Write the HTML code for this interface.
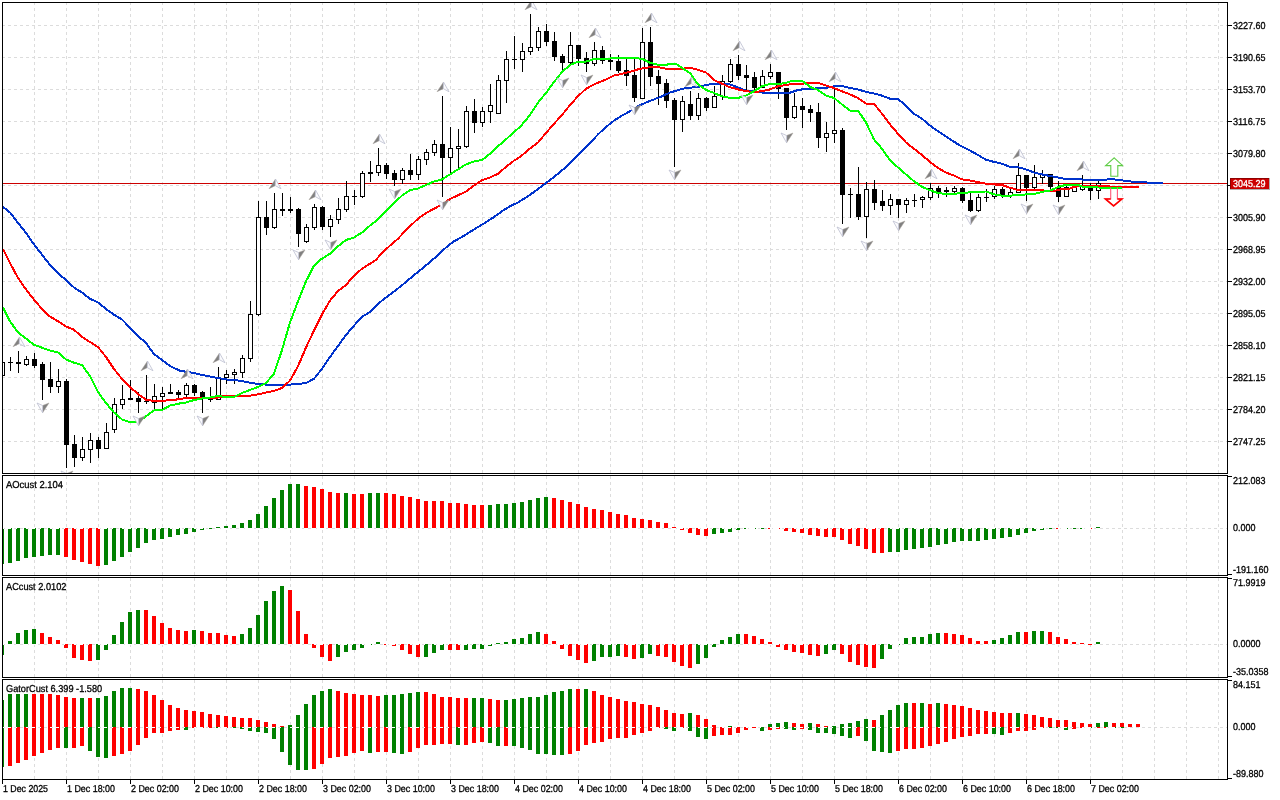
<!DOCTYPE html><html><head><meta charset="utf-8"><title>chart</title><style>html,body{margin:0;padding:0;background:#fff;overflow:hidden}svg{display:block}text{font-family:"Liberation Sans",sans-serif;fill:#000}</style></head><body>
<svg width="1280" height="800" viewBox="0 0 1280 800">
<rect width="1280" height="800" fill="#fff"/>
<g shape-rendering="crispEdges" stroke="#dcdcdc" stroke-width="1" stroke-dasharray="3 3" fill="none">
<line x1="34.5" y1="2" x2="34.5" y2="473" stroke-dashoffset="0"/>
<line x1="66.5" y1="2" x2="66.5" y2="473" stroke-dashoffset="0"/>
<line x1="98.5" y1="2" x2="98.5" y2="473" stroke-dashoffset="0"/>
<line x1="130.5" y1="2" x2="130.5" y2="473" stroke-dashoffset="0"/>
<line x1="162.5" y1="2" x2="162.5" y2="473" stroke-dashoffset="0"/>
<line x1="194.5" y1="2" x2="194.5" y2="473" stroke-dashoffset="0"/>
<line x1="226.5" y1="2" x2="226.5" y2="473" stroke-dashoffset="0"/>
<line x1="258.5" y1="2" x2="258.5" y2="473" stroke-dashoffset="0"/>
<line x1="290.5" y1="2" x2="290.5" y2="473" stroke-dashoffset="0"/>
<line x1="322.5" y1="2" x2="322.5" y2="473" stroke-dashoffset="0"/>
<line x1="354.5" y1="2" x2="354.5" y2="473" stroke-dashoffset="0"/>
<line x1="386.5" y1="2" x2="386.5" y2="473" stroke-dashoffset="0"/>
<line x1="418.5" y1="2" x2="418.5" y2="473" stroke-dashoffset="0"/>
<line x1="450.5" y1="2" x2="450.5" y2="473" stroke-dashoffset="0"/>
<line x1="482.5" y1="2" x2="482.5" y2="473" stroke-dashoffset="0"/>
<line x1="514.5" y1="2" x2="514.5" y2="473" stroke-dashoffset="0"/>
<line x1="546.5" y1="2" x2="546.5" y2="473" stroke-dashoffset="0"/>
<line x1="578.5" y1="2" x2="578.5" y2="473" stroke-dashoffset="0"/>
<line x1="610.5" y1="2" x2="610.5" y2="473" stroke-dashoffset="0"/>
<line x1="642.5" y1="2" x2="642.5" y2="473" stroke-dashoffset="0"/>
<line x1="674.5" y1="2" x2="674.5" y2="473" stroke-dashoffset="0"/>
<line x1="706.5" y1="2" x2="706.5" y2="473" stroke-dashoffset="0"/>
<line x1="738.5" y1="2" x2="738.5" y2="473" stroke-dashoffset="0"/>
<line x1="770.5" y1="2" x2="770.5" y2="473" stroke-dashoffset="0"/>
<line x1="802.5" y1="2" x2="802.5" y2="473" stroke-dashoffset="0"/>
<line x1="834.5" y1="2" x2="834.5" y2="473" stroke-dashoffset="0"/>
<line x1="866.5" y1="2" x2="866.5" y2="473" stroke-dashoffset="0"/>
<line x1="898.5" y1="2" x2="898.5" y2="473" stroke-dashoffset="0"/>
<line x1="930.5" y1="2" x2="930.5" y2="473" stroke-dashoffset="0"/>
<line x1="962.5" y1="2" x2="962.5" y2="473" stroke-dashoffset="0"/>
<line x1="994.5" y1="2" x2="994.5" y2="473" stroke-dashoffset="0"/>
<line x1="1026.5" y1="2" x2="1026.5" y2="473" stroke-dashoffset="0"/>
<line x1="1058.5" y1="2" x2="1058.5" y2="473" stroke-dashoffset="0"/>
<line x1="1090.5" y1="2" x2="1090.5" y2="473" stroke-dashoffset="0"/>
<line x1="1122.5" y1="2" x2="1122.5" y2="473" stroke-dashoffset="0"/>
<line x1="1154.5" y1="2" x2="1154.5" y2="473" stroke-dashoffset="0"/>
<line x1="1186.5" y1="2" x2="1186.5" y2="473" stroke-dashoffset="0"/>
<line x1="1218.5" y1="2" x2="1218.5" y2="473" stroke-dashoffset="0"/>
<line x1="34.5" y1="475" x2="34.5" y2="575" stroke-dashoffset="5"/>
<line x1="66.5" y1="475" x2="66.5" y2="575" stroke-dashoffset="5"/>
<line x1="98.5" y1="475" x2="98.5" y2="575" stroke-dashoffset="5"/>
<line x1="130.5" y1="475" x2="130.5" y2="575" stroke-dashoffset="5"/>
<line x1="162.5" y1="475" x2="162.5" y2="575" stroke-dashoffset="5"/>
<line x1="194.5" y1="475" x2="194.5" y2="575" stroke-dashoffset="5"/>
<line x1="226.5" y1="475" x2="226.5" y2="575" stroke-dashoffset="5"/>
<line x1="258.5" y1="475" x2="258.5" y2="575" stroke-dashoffset="5"/>
<line x1="290.5" y1="475" x2="290.5" y2="575" stroke-dashoffset="5"/>
<line x1="322.5" y1="475" x2="322.5" y2="575" stroke-dashoffset="5"/>
<line x1="354.5" y1="475" x2="354.5" y2="575" stroke-dashoffset="5"/>
<line x1="386.5" y1="475" x2="386.5" y2="575" stroke-dashoffset="5"/>
<line x1="418.5" y1="475" x2="418.5" y2="575" stroke-dashoffset="5"/>
<line x1="450.5" y1="475" x2="450.5" y2="575" stroke-dashoffset="5"/>
<line x1="482.5" y1="475" x2="482.5" y2="575" stroke-dashoffset="5"/>
<line x1="514.5" y1="475" x2="514.5" y2="575" stroke-dashoffset="5"/>
<line x1="546.5" y1="475" x2="546.5" y2="575" stroke-dashoffset="5"/>
<line x1="578.5" y1="475" x2="578.5" y2="575" stroke-dashoffset="5"/>
<line x1="610.5" y1="475" x2="610.5" y2="575" stroke-dashoffset="5"/>
<line x1="642.5" y1="475" x2="642.5" y2="575" stroke-dashoffset="5"/>
<line x1="674.5" y1="475" x2="674.5" y2="575" stroke-dashoffset="5"/>
<line x1="706.5" y1="475" x2="706.5" y2="575" stroke-dashoffset="5"/>
<line x1="738.5" y1="475" x2="738.5" y2="575" stroke-dashoffset="5"/>
<line x1="770.5" y1="475" x2="770.5" y2="575" stroke-dashoffset="5"/>
<line x1="802.5" y1="475" x2="802.5" y2="575" stroke-dashoffset="5"/>
<line x1="834.5" y1="475" x2="834.5" y2="575" stroke-dashoffset="5"/>
<line x1="866.5" y1="475" x2="866.5" y2="575" stroke-dashoffset="5"/>
<line x1="898.5" y1="475" x2="898.5" y2="575" stroke-dashoffset="5"/>
<line x1="930.5" y1="475" x2="930.5" y2="575" stroke-dashoffset="5"/>
<line x1="962.5" y1="475" x2="962.5" y2="575" stroke-dashoffset="5"/>
<line x1="994.5" y1="475" x2="994.5" y2="575" stroke-dashoffset="5"/>
<line x1="1026.5" y1="475" x2="1026.5" y2="575" stroke-dashoffset="5"/>
<line x1="1058.5" y1="475" x2="1058.5" y2="575" stroke-dashoffset="5"/>
<line x1="1090.5" y1="475" x2="1090.5" y2="575" stroke-dashoffset="5"/>
<line x1="1122.5" y1="475" x2="1122.5" y2="575" stroke-dashoffset="5"/>
<line x1="1154.5" y1="475" x2="1154.5" y2="575" stroke-dashoffset="5"/>
<line x1="1186.5" y1="475" x2="1186.5" y2="575" stroke-dashoffset="5"/>
<line x1="1218.5" y1="475" x2="1218.5" y2="575" stroke-dashoffset="5"/>
<line x1="34.5" y1="577" x2="34.5" y2="677" stroke-dashoffset="5"/>
<line x1="66.5" y1="577" x2="66.5" y2="677" stroke-dashoffset="5"/>
<line x1="98.5" y1="577" x2="98.5" y2="677" stroke-dashoffset="5"/>
<line x1="130.5" y1="577" x2="130.5" y2="677" stroke-dashoffset="5"/>
<line x1="162.5" y1="577" x2="162.5" y2="677" stroke-dashoffset="5"/>
<line x1="194.5" y1="577" x2="194.5" y2="677" stroke-dashoffset="5"/>
<line x1="226.5" y1="577" x2="226.5" y2="677" stroke-dashoffset="5"/>
<line x1="258.5" y1="577" x2="258.5" y2="677" stroke-dashoffset="5"/>
<line x1="290.5" y1="577" x2="290.5" y2="677" stroke-dashoffset="5"/>
<line x1="322.5" y1="577" x2="322.5" y2="677" stroke-dashoffset="5"/>
<line x1="354.5" y1="577" x2="354.5" y2="677" stroke-dashoffset="5"/>
<line x1="386.5" y1="577" x2="386.5" y2="677" stroke-dashoffset="5"/>
<line x1="418.5" y1="577" x2="418.5" y2="677" stroke-dashoffset="5"/>
<line x1="450.5" y1="577" x2="450.5" y2="677" stroke-dashoffset="5"/>
<line x1="482.5" y1="577" x2="482.5" y2="677" stroke-dashoffset="5"/>
<line x1="514.5" y1="577" x2="514.5" y2="677" stroke-dashoffset="5"/>
<line x1="546.5" y1="577" x2="546.5" y2="677" stroke-dashoffset="5"/>
<line x1="578.5" y1="577" x2="578.5" y2="677" stroke-dashoffset="5"/>
<line x1="610.5" y1="577" x2="610.5" y2="677" stroke-dashoffset="5"/>
<line x1="642.5" y1="577" x2="642.5" y2="677" stroke-dashoffset="5"/>
<line x1="674.5" y1="577" x2="674.5" y2="677" stroke-dashoffset="5"/>
<line x1="706.5" y1="577" x2="706.5" y2="677" stroke-dashoffset="5"/>
<line x1="738.5" y1="577" x2="738.5" y2="677" stroke-dashoffset="5"/>
<line x1="770.5" y1="577" x2="770.5" y2="677" stroke-dashoffset="5"/>
<line x1="802.5" y1="577" x2="802.5" y2="677" stroke-dashoffset="5"/>
<line x1="834.5" y1="577" x2="834.5" y2="677" stroke-dashoffset="5"/>
<line x1="866.5" y1="577" x2="866.5" y2="677" stroke-dashoffset="5"/>
<line x1="898.5" y1="577" x2="898.5" y2="677" stroke-dashoffset="5"/>
<line x1="930.5" y1="577" x2="930.5" y2="677" stroke-dashoffset="5"/>
<line x1="962.5" y1="577" x2="962.5" y2="677" stroke-dashoffset="5"/>
<line x1="994.5" y1="577" x2="994.5" y2="677" stroke-dashoffset="5"/>
<line x1="1026.5" y1="577" x2="1026.5" y2="677" stroke-dashoffset="5"/>
<line x1="1058.5" y1="577" x2="1058.5" y2="677" stroke-dashoffset="5"/>
<line x1="1090.5" y1="577" x2="1090.5" y2="677" stroke-dashoffset="5"/>
<line x1="1122.5" y1="577" x2="1122.5" y2="677" stroke-dashoffset="5"/>
<line x1="1154.5" y1="577" x2="1154.5" y2="677" stroke-dashoffset="5"/>
<line x1="1186.5" y1="577" x2="1186.5" y2="677" stroke-dashoffset="5"/>
<line x1="1218.5" y1="577" x2="1218.5" y2="677" stroke-dashoffset="5"/>
<line x1="34.5" y1="679" x2="34.5" y2="779" stroke-dashoffset="5"/>
<line x1="66.5" y1="679" x2="66.5" y2="779" stroke-dashoffset="5"/>
<line x1="98.5" y1="679" x2="98.5" y2="779" stroke-dashoffset="5"/>
<line x1="130.5" y1="679" x2="130.5" y2="779" stroke-dashoffset="5"/>
<line x1="162.5" y1="679" x2="162.5" y2="779" stroke-dashoffset="5"/>
<line x1="194.5" y1="679" x2="194.5" y2="779" stroke-dashoffset="5"/>
<line x1="226.5" y1="679" x2="226.5" y2="779" stroke-dashoffset="5"/>
<line x1="258.5" y1="679" x2="258.5" y2="779" stroke-dashoffset="5"/>
<line x1="290.5" y1="679" x2="290.5" y2="779" stroke-dashoffset="5"/>
<line x1="322.5" y1="679" x2="322.5" y2="779" stroke-dashoffset="5"/>
<line x1="354.5" y1="679" x2="354.5" y2="779" stroke-dashoffset="5"/>
<line x1="386.5" y1="679" x2="386.5" y2="779" stroke-dashoffset="5"/>
<line x1="418.5" y1="679" x2="418.5" y2="779" stroke-dashoffset="5"/>
<line x1="450.5" y1="679" x2="450.5" y2="779" stroke-dashoffset="5"/>
<line x1="482.5" y1="679" x2="482.5" y2="779" stroke-dashoffset="5"/>
<line x1="514.5" y1="679" x2="514.5" y2="779" stroke-dashoffset="5"/>
<line x1="546.5" y1="679" x2="546.5" y2="779" stroke-dashoffset="5"/>
<line x1="578.5" y1="679" x2="578.5" y2="779" stroke-dashoffset="5"/>
<line x1="610.5" y1="679" x2="610.5" y2="779" stroke-dashoffset="5"/>
<line x1="642.5" y1="679" x2="642.5" y2="779" stroke-dashoffset="5"/>
<line x1="674.5" y1="679" x2="674.5" y2="779" stroke-dashoffset="5"/>
<line x1="706.5" y1="679" x2="706.5" y2="779" stroke-dashoffset="5"/>
<line x1="738.5" y1="679" x2="738.5" y2="779" stroke-dashoffset="5"/>
<line x1="770.5" y1="679" x2="770.5" y2="779" stroke-dashoffset="5"/>
<line x1="802.5" y1="679" x2="802.5" y2="779" stroke-dashoffset="5"/>
<line x1="834.5" y1="679" x2="834.5" y2="779" stroke-dashoffset="5"/>
<line x1="866.5" y1="679" x2="866.5" y2="779" stroke-dashoffset="5"/>
<line x1="898.5" y1="679" x2="898.5" y2="779" stroke-dashoffset="5"/>
<line x1="930.5" y1="679" x2="930.5" y2="779" stroke-dashoffset="5"/>
<line x1="962.5" y1="679" x2="962.5" y2="779" stroke-dashoffset="5"/>
<line x1="994.5" y1="679" x2="994.5" y2="779" stroke-dashoffset="5"/>
<line x1="1026.5" y1="679" x2="1026.5" y2="779" stroke-dashoffset="5"/>
<line x1="1058.5" y1="679" x2="1058.5" y2="779" stroke-dashoffset="5"/>
<line x1="1090.5" y1="679" x2="1090.5" y2="779" stroke-dashoffset="5"/>
<line x1="1122.5" y1="679" x2="1122.5" y2="779" stroke-dashoffset="5"/>
<line x1="1154.5" y1="679" x2="1154.5" y2="779" stroke-dashoffset="5"/>
<line x1="1186.5" y1="679" x2="1186.5" y2="779" stroke-dashoffset="5"/>
<line x1="1218.5" y1="679" x2="1218.5" y2="779" stroke-dashoffset="5"/>
<line x1="2" y1="25.5" x2="1227" y2="25.5"/>
<line x1="2" y1="57.5" x2="1227" y2="57.5"/>
<line x1="2" y1="89.5" x2="1227" y2="89.5"/>
<line x1="2" y1="121.5" x2="1227" y2="121.5"/>
<line x1="2" y1="153.5" x2="1227" y2="153.5"/>
<line x1="2" y1="185.5" x2="1227" y2="185.5"/>
<line x1="2" y1="217.5" x2="1227" y2="217.5"/>
<line x1="2" y1="249.5" x2="1227" y2="249.5"/>
<line x1="2" y1="281.5" x2="1227" y2="281.5"/>
<line x1="2" y1="313.5" x2="1227" y2="313.5"/>
<line x1="2" y1="345.5" x2="1227" y2="345.5"/>
<line x1="2" y1="377.5" x2="1227" y2="377.5"/>
<line x1="2" y1="409.5" x2="1227" y2="409.5"/>
<line x1="2" y1="441.5" x2="1227" y2="441.5"/>
<line x1="2" y1="528.5" x2="1227" y2="528.5"/>
<line x1="2" y1="644.5" x2="1227" y2="644.5"/>
<line x1="2" y1="727.5" x2="1227" y2="727.5"/>
</g>
<defs><clipPath id="cm"><rect x="3" y="3" width="1224" height="470"/></clipPath>
<clipPath id="c1"><rect x="3" y="476" width="1224" height="99"/></clipPath>
<clipPath id="c2"><rect x="3" y="578" width="1224" height="99"/></clipPath>
<clipPath id="c3"><rect x="3" y="680" width="1224" height="99"/></clipPath></defs>
<g shape-rendering="crispEdges"><rect x="3" y="183" width="1224" height="1" fill="#cc0000"/></g>
<g clip-path="url(#cm)" shape-rendering="crispEdges">
<rect x="2" y="362" width="1" height="14" fill="#000"/>
<rect x="0" y="362" width="5" height="14" fill="#000"/>
<rect x="1" y="363" width="3" height="12" fill="#fff"/>
<rect x="10" y="357" width="1" height="14" fill="#000"/>
<rect x="8" y="362" width="5" height="1" fill="#000"/>
<rect x="18" y="351" width="1" height="22" fill="#000"/>
<rect x="16" y="362" width="5" height="2" fill="#000"/>
<rect x="26" y="356" width="1" height="10" fill="#000"/>
<rect x="24" y="359" width="5" height="6" fill="#000"/>
<rect x="25" y="360" width="3" height="4" fill="#fff"/>
<rect x="34" y="353" width="1" height="15" fill="#000"/>
<rect x="32" y="359" width="5" height="7" fill="#000"/>
<rect x="42" y="362" width="1" height="38" fill="#000"/>
<rect x="40" y="364" width="5" height="16" fill="#000"/>
<rect x="50" y="362" width="1" height="31" fill="#000"/>
<rect x="48" y="379" width="5" height="8" fill="#000"/>
<rect x="58" y="369" width="1" height="24" fill="#000"/>
<rect x="56" y="381" width="5" height="6" fill="#000"/>
<rect x="57" y="382" width="3" height="4" fill="#fff"/>
<rect x="66" y="379" width="1" height="89" fill="#000"/>
<rect x="64" y="381" width="5" height="64" fill="#000"/>
<rect x="74" y="435" width="1" height="32" fill="#000"/>
<rect x="72" y="444" width="5" height="14" fill="#000"/>
<rect x="82" y="437" width="1" height="24" fill="#000"/>
<rect x="80" y="449" width="5" height="9" fill="#000"/>
<rect x="81" y="450" width="3" height="7" fill="#fff"/>
<rect x="90" y="433" width="1" height="30" fill="#000"/>
<rect x="88" y="440" width="5" height="10" fill="#000"/>
<rect x="89" y="441" width="3" height="8" fill="#fff"/>
<rect x="98" y="437" width="1" height="21" fill="#000"/>
<rect x="96" y="440" width="5" height="9" fill="#000"/>
<rect x="106" y="423" width="1" height="26" fill="#000"/>
<rect x="104" y="432" width="5" height="17" fill="#000"/>
<rect x="105" y="433" width="3" height="15" fill="#fff"/>
<rect x="114" y="398" width="1" height="35" fill="#000"/>
<rect x="112" y="404" width="5" height="26" fill="#000"/>
<rect x="113" y="405" width="3" height="24" fill="#fff"/>
<rect x="122" y="385" width="1" height="24" fill="#000"/>
<rect x="120" y="399" width="5" height="6" fill="#000"/>
<rect x="121" y="400" width="3" height="4" fill="#fff"/>
<rect x="130" y="380" width="1" height="20" fill="#000"/>
<rect x="128" y="398" width="5" height="2" fill="#000"/>
<rect x="138" y="392" width="1" height="21" fill="#000"/>
<rect x="136" y="398" width="5" height="4" fill="#000"/>
<rect x="146" y="375" width="1" height="29" fill="#000"/>
<rect x="144" y="401" width="5" height="1" fill="#000"/>
<rect x="154" y="384" width="1" height="26" fill="#000"/>
<rect x="152" y="396" width="5" height="7" fill="#000"/>
<rect x="153" y="397" width="3" height="5" fill="#fff"/>
<rect x="162" y="387" width="1" height="24" fill="#000"/>
<rect x="160" y="393" width="5" height="4" fill="#000"/>
<rect x="161" y="394" width="3" height="2" fill="#fff"/>
<rect x="170" y="384" width="1" height="10" fill="#000"/>
<rect x="168" y="392" width="5" height="2" fill="#000"/>
<rect x="178" y="390" width="1" height="9" fill="#000"/>
<rect x="176" y="392" width="5" height="3" fill="#000"/>
<rect x="186" y="383" width="1" height="16" fill="#000"/>
<rect x="184" y="385" width="5" height="10" fill="#000"/>
<rect x="185" y="386" width="3" height="8" fill="#fff"/>
<rect x="194" y="384" width="1" height="12" fill="#000"/>
<rect x="192" y="385" width="5" height="8" fill="#000"/>
<rect x="202" y="391" width="1" height="22" fill="#000"/>
<rect x="200" y="392" width="5" height="6" fill="#000"/>
<rect x="210" y="387" width="1" height="15" fill="#000"/>
<rect x="208" y="398" width="5" height="2" fill="#000"/>
<rect x="218" y="367" width="1" height="33" fill="#000"/>
<rect x="216" y="377" width="5" height="23" fill="#000"/>
<rect x="217" y="378" width="3" height="21" fill="#fff"/>
<rect x="226" y="370" width="1" height="14" fill="#000"/>
<rect x="224" y="374" width="5" height="4" fill="#000"/>
<rect x="225" y="375" width="3" height="2" fill="#fff"/>
<rect x="234" y="369" width="1" height="15" fill="#000"/>
<rect x="232" y="372" width="5" height="3" fill="#000"/>
<rect x="233" y="373" width="3" height="1" fill="#fff"/>
<rect x="242" y="355" width="1" height="23" fill="#000"/>
<rect x="240" y="358" width="5" height="15" fill="#000"/>
<rect x="241" y="359" width="3" height="13" fill="#fff"/>
<rect x="250" y="301" width="1" height="61" fill="#000"/>
<rect x="248" y="314" width="5" height="45" fill="#000"/>
<rect x="249" y="315" width="3" height="43" fill="#fff"/>
<rect x="258" y="201" width="1" height="115" fill="#000"/>
<rect x="256" y="217" width="5" height="98" fill="#000"/>
<rect x="257" y="218" width="3" height="96" fill="#fff"/>
<rect x="266" y="201" width="1" height="34" fill="#000"/>
<rect x="264" y="217" width="5" height="11" fill="#000"/>
<rect x="274" y="193" width="1" height="36" fill="#000"/>
<rect x="272" y="209" width="5" height="19" fill="#000"/>
<rect x="273" y="210" width="3" height="17" fill="#fff"/>
<rect x="282" y="193" width="1" height="23" fill="#000"/>
<rect x="280" y="209" width="5" height="2" fill="#000"/>
<rect x="290" y="197" width="1" height="16" fill="#000"/>
<rect x="288" y="209" width="5" height="2" fill="#000"/>
<rect x="298" y="208" width="1" height="39" fill="#000"/>
<rect x="296" y="209" width="5" height="25" fill="#000"/>
<rect x="306" y="224" width="1" height="19" fill="#000"/>
<rect x="304" y="227" width="5" height="15" fill="#000"/>
<rect x="305" y="228" width="3" height="13" fill="#fff"/>
<rect x="314" y="204" width="1" height="26" fill="#000"/>
<rect x="312" y="207" width="5" height="21" fill="#000"/>
<rect x="313" y="208" width="3" height="19" fill="#fff"/>
<rect x="322" y="206" width="1" height="24" fill="#000"/>
<rect x="320" y="207" width="5" height="20" fill="#000"/>
<rect x="330" y="215" width="1" height="22" fill="#000"/>
<rect x="328" y="219" width="5" height="8" fill="#000"/>
<rect x="329" y="220" width="3" height="6" fill="#fff"/>
<rect x="338" y="198" width="1" height="26" fill="#000"/>
<rect x="336" y="209" width="5" height="11" fill="#000"/>
<rect x="337" y="210" width="3" height="9" fill="#fff"/>
<rect x="346" y="181" width="1" height="31" fill="#000"/>
<rect x="344" y="196" width="5" height="14" fill="#000"/>
<rect x="345" y="197" width="3" height="12" fill="#fff"/>
<rect x="354" y="190" width="1" height="15" fill="#000"/>
<rect x="352" y="196" width="5" height="1" fill="#000"/>
<rect x="362" y="171" width="1" height="27" fill="#000"/>
<rect x="360" y="173" width="5" height="24" fill="#000"/>
<rect x="361" y="174" width="3" height="22" fill="#fff"/>
<rect x="370" y="161" width="1" height="21" fill="#000"/>
<rect x="368" y="172" width="5" height="2" fill="#000"/>
<rect x="378" y="148" width="1" height="28" fill="#000"/>
<rect x="376" y="165" width="5" height="8" fill="#000"/>
<rect x="377" y="166" width="3" height="6" fill="#fff"/>
<rect x="386" y="163" width="1" height="16" fill="#000"/>
<rect x="384" y="165" width="5" height="9" fill="#000"/>
<rect x="394" y="170" width="1" height="16" fill="#000"/>
<rect x="392" y="173" width="5" height="7" fill="#000"/>
<rect x="402" y="168" width="1" height="16" fill="#000"/>
<rect x="400" y="170" width="5" height="10" fill="#000"/>
<rect x="401" y="171" width="3" height="8" fill="#fff"/>
<rect x="410" y="154" width="1" height="26" fill="#000"/>
<rect x="408" y="170" width="5" height="5" fill="#000"/>
<rect x="418" y="156" width="1" height="24" fill="#000"/>
<rect x="416" y="159" width="5" height="16" fill="#000"/>
<rect x="417" y="160" width="3" height="14" fill="#fff"/>
<rect x="426" y="149" width="1" height="16" fill="#000"/>
<rect x="424" y="152" width="5" height="8" fill="#000"/>
<rect x="425" y="153" width="3" height="6" fill="#fff"/>
<rect x="434" y="140" width="1" height="16" fill="#000"/>
<rect x="432" y="144" width="5" height="9" fill="#000"/>
<rect x="433" y="145" width="3" height="7" fill="#fff"/>
<rect x="442" y="96" width="1" height="101" fill="#000"/>
<rect x="440" y="144" width="5" height="14" fill="#000"/>
<rect x="450" y="127" width="1" height="46" fill="#000"/>
<rect x="448" y="148" width="5" height="10" fill="#000"/>
<rect x="449" y="149" width="3" height="8" fill="#fff"/>
<rect x="458" y="129" width="1" height="40" fill="#000"/>
<rect x="456" y="146" width="5" height="3" fill="#000"/>
<rect x="457" y="147" width="3" height="1" fill="#fff"/>
<rect x="466" y="106" width="1" height="42" fill="#000"/>
<rect x="464" y="111" width="5" height="36" fill="#000"/>
<rect x="465" y="112" width="3" height="34" fill="#fff"/>
<rect x="474" y="99" width="1" height="34" fill="#000"/>
<rect x="472" y="111" width="5" height="12" fill="#000"/>
<rect x="482" y="107" width="1" height="20" fill="#000"/>
<rect x="480" y="111" width="5" height="12" fill="#000"/>
<rect x="481" y="112" width="3" height="10" fill="#fff"/>
<rect x="490" y="84" width="1" height="39" fill="#000"/>
<rect x="488" y="105" width="5" height="7" fill="#000"/>
<rect x="489" y="106" width="3" height="5" fill="#fff"/>
<rect x="498" y="75" width="1" height="39" fill="#000"/>
<rect x="496" y="80" width="5" height="34" fill="#000"/>
<rect x="497" y="81" width="3" height="32" fill="#fff"/>
<rect x="506" y="51" width="1" height="52" fill="#000"/>
<rect x="504" y="59" width="5" height="22" fill="#000"/>
<rect x="505" y="60" width="3" height="20" fill="#fff"/>
<rect x="514" y="36" width="1" height="33" fill="#000"/>
<rect x="512" y="59" width="5" height="1" fill="#000"/>
<rect x="522" y="43" width="1" height="29" fill="#000"/>
<rect x="520" y="51" width="5" height="9" fill="#000"/>
<rect x="521" y="52" width="3" height="7" fill="#fff"/>
<rect x="530" y="14" width="1" height="41" fill="#000"/>
<rect x="528" y="47" width="5" height="5" fill="#000"/>
<rect x="529" y="48" width="3" height="3" fill="#fff"/>
<rect x="538" y="27" width="1" height="24" fill="#000"/>
<rect x="536" y="31" width="5" height="17" fill="#000"/>
<rect x="537" y="32" width="3" height="15" fill="#fff"/>
<rect x="546" y="24" width="1" height="22" fill="#000"/>
<rect x="544" y="31" width="5" height="11" fill="#000"/>
<rect x="554" y="32" width="1" height="29" fill="#000"/>
<rect x="552" y="41" width="5" height="16" fill="#000"/>
<rect x="562" y="54" width="1" height="18" fill="#000"/>
<rect x="560" y="56" width="5" height="7" fill="#000"/>
<rect x="570" y="32" width="1" height="32" fill="#000"/>
<rect x="568" y="45" width="5" height="18" fill="#000"/>
<rect x="569" y="46" width="3" height="16" fill="#fff"/>
<rect x="578" y="45" width="1" height="21" fill="#000"/>
<rect x="576" y="45" width="5" height="14" fill="#000"/>
<rect x="586" y="52" width="1" height="20" fill="#000"/>
<rect x="584" y="58" width="5" height="6" fill="#000"/>
<rect x="594" y="42" width="1" height="24" fill="#000"/>
<rect x="592" y="50" width="5" height="14" fill="#000"/>
<rect x="593" y="51" width="3" height="12" fill="#fff"/>
<rect x="602" y="46" width="1" height="18" fill="#000"/>
<rect x="600" y="50" width="5" height="11" fill="#000"/>
<rect x="610" y="54" width="1" height="16" fill="#000"/>
<rect x="608" y="60" width="5" height="2" fill="#000"/>
<rect x="618" y="55" width="1" height="18" fill="#000"/>
<rect x="616" y="61" width="5" height="10" fill="#000"/>
<rect x="626" y="59" width="1" height="27" fill="#000"/>
<rect x="624" y="70" width="5" height="6" fill="#000"/>
<rect x="634" y="59" width="1" height="43" fill="#000"/>
<rect x="632" y="75" width="5" height="23" fill="#000"/>
<rect x="642" y="28" width="1" height="71" fill="#000"/>
<rect x="640" y="42" width="5" height="57" fill="#000"/>
<rect x="641" y="43" width="3" height="55" fill="#fff"/>
<rect x="650" y="27" width="1" height="59" fill="#000"/>
<rect x="648" y="42" width="5" height="35" fill="#000"/>
<rect x="658" y="70" width="1" height="35" fill="#000"/>
<rect x="656" y="76" width="5" height="8" fill="#000"/>
<rect x="666" y="79" width="1" height="29" fill="#000"/>
<rect x="664" y="83" width="5" height="18" fill="#000"/>
<rect x="674" y="98" width="1" height="69" fill="#000"/>
<rect x="672" y="100" width="5" height="20" fill="#000"/>
<rect x="682" y="96" width="1" height="36" fill="#000"/>
<rect x="680" y="101" width="5" height="19" fill="#000"/>
<rect x="681" y="102" width="3" height="17" fill="#fff"/>
<rect x="690" y="91" width="1" height="29" fill="#000"/>
<rect x="688" y="104" width="5" height="12" fill="#000"/>
<rect x="698" y="93" width="1" height="27" fill="#000"/>
<rect x="696" y="98" width="5" height="18" fill="#000"/>
<rect x="697" y="99" width="3" height="16" fill="#fff"/>
<rect x="706" y="97" width="1" height="14" fill="#000"/>
<rect x="704" y="98" width="5" height="10" fill="#000"/>
<rect x="714" y="86" width="1" height="22" fill="#000"/>
<rect x="712" y="96" width="5" height="12" fill="#000"/>
<rect x="713" y="97" width="3" height="10" fill="#fff"/>
<rect x="722" y="75" width="1" height="25" fill="#000"/>
<rect x="720" y="81" width="5" height="16" fill="#000"/>
<rect x="721" y="82" width="3" height="14" fill="#fff"/>
<rect x="730" y="59" width="1" height="24" fill="#000"/>
<rect x="728" y="64" width="5" height="18" fill="#000"/>
<rect x="729" y="65" width="3" height="16" fill="#fff"/>
<rect x="738" y="55" width="1" height="25" fill="#000"/>
<rect x="736" y="64" width="5" height="12" fill="#000"/>
<rect x="746" y="65" width="1" height="26" fill="#000"/>
<rect x="744" y="75" width="5" height="3" fill="#000"/>
<rect x="754" y="72" width="1" height="20" fill="#000"/>
<rect x="752" y="77" width="5" height="11" fill="#000"/>
<rect x="762" y="70" width="1" height="18" fill="#000"/>
<rect x="760" y="76" width="5" height="12" fill="#000"/>
<rect x="761" y="77" width="3" height="10" fill="#fff"/>
<rect x="770" y="64" width="1" height="15" fill="#000"/>
<rect x="768" y="72" width="5" height="5" fill="#000"/>
<rect x="769" y="73" width="3" height="3" fill="#fff"/>
<rect x="778" y="72" width="1" height="27" fill="#000"/>
<rect x="776" y="72" width="5" height="17" fill="#000"/>
<rect x="786" y="88" width="1" height="42" fill="#000"/>
<rect x="784" y="88" width="5" height="30" fill="#000"/>
<rect x="794" y="93" width="1" height="26" fill="#000"/>
<rect x="792" y="106" width="5" height="12" fill="#000"/>
<rect x="793" y="107" width="3" height="10" fill="#fff"/>
<rect x="802" y="98" width="1" height="30" fill="#000"/>
<rect x="800" y="106" width="5" height="4" fill="#000"/>
<rect x="810" y="105" width="1" height="17" fill="#000"/>
<rect x="808" y="109" width="5" height="4" fill="#000"/>
<rect x="818" y="103" width="1" height="45" fill="#000"/>
<rect x="816" y="112" width="5" height="26" fill="#000"/>
<rect x="826" y="122" width="1" height="30" fill="#000"/>
<rect x="824" y="133" width="5" height="5" fill="#000"/>
<rect x="825" y="134" width="3" height="3" fill="#fff"/>
<rect x="834" y="86" width="1" height="57" fill="#000"/>
<rect x="832" y="130" width="5" height="4" fill="#000"/>
<rect x="833" y="131" width="3" height="2" fill="#fff"/>
<rect x="842" y="128" width="1" height="96" fill="#000"/>
<rect x="840" y="130" width="5" height="65" fill="#000"/>
<rect x="850" y="188" width="1" height="30" fill="#000"/>
<rect x="848" y="194" width="5" height="1" fill="#000"/>
<rect x="858" y="167" width="1" height="53" fill="#000"/>
<rect x="856" y="194" width="5" height="23" fill="#000"/>
<rect x="866" y="182" width="1" height="56" fill="#000"/>
<rect x="864" y="189" width="5" height="28" fill="#000"/>
<rect x="865" y="190" width="3" height="26" fill="#fff"/>
<rect x="874" y="180" width="1" height="30" fill="#000"/>
<rect x="872" y="189" width="5" height="14" fill="#000"/>
<rect x="882" y="190" width="1" height="21" fill="#000"/>
<rect x="880" y="201" width="5" height="5" fill="#000"/>
<rect x="890" y="194" width="1" height="21" fill="#000"/>
<rect x="888" y="199" width="5" height="7" fill="#000"/>
<rect x="889" y="200" width="3" height="5" fill="#fff"/>
<rect x="898" y="199" width="1" height="19" fill="#000"/>
<rect x="896" y="199" width="5" height="6" fill="#000"/>
<rect x="906" y="198" width="1" height="15" fill="#000"/>
<rect x="904" y="200" width="5" height="5" fill="#000"/>
<rect x="905" y="201" width="3" height="3" fill="#fff"/>
<rect x="914" y="194" width="1" height="13" fill="#000"/>
<rect x="912" y="200" width="5" height="1" fill="#000"/>
<rect x="922" y="196" width="1" height="12" fill="#000"/>
<rect x="920" y="197" width="5" height="3" fill="#000"/>
<rect x="921" y="198" width="3" height="1" fill="#fff"/>
<rect x="930" y="183" width="1" height="17" fill="#000"/>
<rect x="928" y="188" width="5" height="10" fill="#000"/>
<rect x="929" y="189" width="3" height="8" fill="#fff"/>
<rect x="938" y="186" width="1" height="12" fill="#000"/>
<rect x="936" y="188" width="5" height="4" fill="#000"/>
<rect x="946" y="187" width="1" height="10" fill="#000"/>
<rect x="944" y="190" width="5" height="2" fill="#000"/>
<rect x="954" y="186" width="1" height="8" fill="#000"/>
<rect x="952" y="188" width="5" height="4" fill="#000"/>
<rect x="953" y="189" width="3" height="2" fill="#fff"/>
<rect x="962" y="187" width="1" height="16" fill="#000"/>
<rect x="960" y="188" width="5" height="13" fill="#000"/>
<rect x="970" y="191" width="1" height="21" fill="#000"/>
<rect x="968" y="200" width="5" height="11" fill="#000"/>
<rect x="978" y="194" width="1" height="18" fill="#000"/>
<rect x="976" y="197" width="5" height="14" fill="#000"/>
<rect x="977" y="198" width="3" height="12" fill="#fff"/>
<rect x="986" y="189" width="1" height="13" fill="#000"/>
<rect x="984" y="197" width="5" height="1" fill="#000"/>
<rect x="994" y="186" width="1" height="13" fill="#000"/>
<rect x="992" y="189" width="5" height="8" fill="#000"/>
<rect x="993" y="190" width="3" height="6" fill="#fff"/>
<rect x="1002" y="187" width="1" height="11" fill="#000"/>
<rect x="1000" y="189" width="5" height="7" fill="#000"/>
<rect x="1010" y="189" width="1" height="9" fill="#000"/>
<rect x="1008" y="192" width="5" height="4" fill="#000"/>
<rect x="1009" y="193" width="3" height="2" fill="#fff"/>
<rect x="1018" y="163" width="1" height="30" fill="#000"/>
<rect x="1016" y="175" width="5" height="18" fill="#000"/>
<rect x="1017" y="176" width="3" height="16" fill="#fff"/>
<rect x="1026" y="175" width="1" height="26" fill="#000"/>
<rect x="1024" y="175" width="5" height="13" fill="#000"/>
<rect x="1034" y="165" width="1" height="24" fill="#000"/>
<rect x="1032" y="177" width="5" height="11" fill="#000"/>
<rect x="1033" y="178" width="3" height="9" fill="#fff"/>
<rect x="1042" y="170" width="1" height="14" fill="#000"/>
<rect x="1040" y="174" width="5" height="4" fill="#000"/>
<rect x="1041" y="175" width="3" height="2" fill="#fff"/>
<rect x="1050" y="174" width="1" height="15" fill="#000"/>
<rect x="1048" y="174" width="5" height="13" fill="#000"/>
<rect x="1058" y="181" width="1" height="21" fill="#000"/>
<rect x="1056" y="187" width="5" height="10" fill="#000"/>
<rect x="1066" y="185" width="1" height="12" fill="#000"/>
<rect x="1064" y="187" width="5" height="10" fill="#000"/>
<rect x="1065" y="188" width="3" height="8" fill="#fff"/>
<rect x="1074" y="184" width="1" height="8" fill="#000"/>
<rect x="1072" y="186" width="5" height="6" fill="#000"/>
<rect x="1073" y="187" width="3" height="4" fill="#fff"/>
<rect x="1082" y="175" width="1" height="16" fill="#000"/>
<rect x="1080" y="185" width="5" height="5" fill="#000"/>
<rect x="1081" y="186" width="3" height="3" fill="#fff"/>
<rect x="1090" y="183" width="1" height="17" fill="#000"/>
<rect x="1088" y="187" width="5" height="4" fill="#000"/>
<rect x="1098" y="181" width="1" height="18" fill="#000"/>
<rect x="1096" y="183" width="5" height="8" fill="#000"/>
<rect x="1097" y="184" width="3" height="6" fill="#fff"/>
</g>
<g clip-path="url(#cm)">
<polyline points="3,207.00 10,212.50 18,222.80 26,233.00 34,244.40 42,254.70 50,265.00 58,273.40 66,280.00 74,287.50 82,292.60 90,298.75 98,302.50 106,309.00 114,314.70 122,319.40 130,327.80 138,336.00 146,343.00 154,354.00 160,358.50 170,366.00 180,370.80 194,373.00 202,375.00 210,376.50 218,378.00 226,379.40 234,380.00 242,381.00 250,382.75 258,384.00 266,384.60 290,384.60 298,384.00 306,383.00 314,378.75 322,368.75 330,357.00 338,346.00 346,335.00 354,325.60 362,316.90 370,311.90 378,303.75 386,297.50 396,290.00 406,282.00 414,275.00 422,268.75 430,262.00 438,255.00 446,247.50 454,241.25 462,237.00 470,232.00 478,227.00 486,222.25 494,217.00 502,211.25 510,206.25 518,202.50 526,197.50 534,192.00 542,186.00 550,180.00 558,173.75 566,167.00 574,158.75 582,151.25 590,143.00 598,134.40 606,127.00 614,120.60 622,115.60 630,111.25 638,106.25 646,102.50 654,99.40 662,96.25 670,92.50 678,90.25 682,88.75 690,87.75 698,86.90 706,85.00 714,83.75 722,83.75 730,84.40 738,87.50 746,90.60 754,91.25 762,92.50 770,92.90 786,92.90 790,92.75 796,90.60 804,89.00 812,89.00 820,87.75 828,87.50 836,86.00 842,86.00 850,88.00 858,89.40 866,91.90 874,93.50 882,95.60 890,98.75 898,99.00 906,105.60 914,113.75 922,118.75 930,125.60 938,131.25 946,136.50 954,141.70 960,145.60 970,150.60 978,155.00 986,159.75 994,161.90 1002,163.75 1010,166.90 1018,167.25 1026,169.40 1034,172.50 1042,174.40 1050,176.00 1058,177.50 1066,179.00 1082,179.50 1090,180.00 1106,180.00 1108,179.00 1114,179.00 1116,180.00 1122,180.00 1124,181.00 1130,181.00 1132,182.00 1146,182.00 1148,183.00 1163,183.00" fill="none" stroke="#0033cc" stroke-width="2" stroke-linejoin="round" shape-rendering="crispEdges"/>
<polyline points="3,249.00 10,263.00 18,278.00 26,289.40 34,299.70 42,309.00 50,316.60 58,321.25 66,326.50 74,329.70 82,337.00 90,342.00 98,347.00 106,357.00 114,369.00 122,379.00 130,387.00 138,394.00 146,399.70 154,401.00 162,401.00 170,400.00 178,399.40 186,398.00 194,398.50 202,398.00 218,397.50 226,395.60 250,395.60 258,394.40 266,392.50 274,391.00 282,388.00 290,380.60 298,366.25 306,347.50 314,330.50 322,314.40 330,300.60 338,291.00 346,285.00 354,275.60 362,268.75 370,263.75 376,260.00 380,255.00 390,245.60 398,238.75 406,230.00 418,218.75 426,213.00 434,208.75 442,204.50 450,199.00 458,195.30 466,191.50 474,185.60 482,180.25 490,177.50 498,173.75 506,166.90 514,160.60 520,157.00 530,148.50 538,142.50 546,133.00 554,123.75 562,115.00 570,105.00 578,96.25 586,88.75 594,84.40 598,82.75 606,79.40 614,75.60 622,73.75 630,71.90 638,69.40 646,67.75 654,66.90 658,67.00 666,68.75 682,68.75 690,67.75 698,69.75 706,72.50 714,80.00 722,83.75 730,87.25 738,89.40 746,91.25 754,92.00 762,91.25 770,89.40 778,86.25 786,85.00 790,84.40 802,84.40 806,82.75 818,82.75 826,85.60 834,88.00 842,91.25 850,94.40 858,98.00 866,103.50 874,103.75 882,113.75 890,124.40 898,133.75 906,142.50 914,148.75 922,155.00 930,162.00 938,168.00 946,172.50 954,175.60 962,179.40 970,180.50 978,182.00 986,183.75 994,184.40 1002,185.00 1010,187.75 1018,190.00 1026,190.25 1042,190.30 1050,191.00 1054,191.00 1058,190.00 1062,189.00 1070,188.50 1074,187.00 1078,186.20 1082,185.50 1098,185.70 1110,186.50 1122,187.20 1139,187.20" fill="none" stroke="#ff0000" stroke-width="2" stroke-linejoin="round" shape-rendering="crispEdges"/>
<polyline points="3,307.75 10,321.25 18,332.50 26,338.50 34,344.75 50,350.60 58,352.50 66,359.40 74,362.75 82,365.00 90,376.00 98,392.00 106,403.00 114,412.50 122,419.40 130,422.25 138,422.00 146,416.25 154,410.40 162,410.00 170,405.60 178,403.75 186,402.50 194,400.00 202,398.50 210,397.50 218,396.00 226,397.00 234,397.00 242,393.00 250,390.00 258,387.00 266,383.00 274,373.75 282,350.00 290,322.50 298,301.25 306,281.25 314,265.60 320,260.00 330,253.75 338,246.25 346,240.00 354,237.50 362,232.50 370,225.60 378,219.40 386,211.00 394,203.00 402,195.60 410,190.00 418,188.50 426,185.00 434,181.50 442,179.40 450,174.40 458,169.40 466,164.40 474,161.50 482,160.00 490,153.75 498,146.25 506,139.40 514,131.90 520,127.00 530,115.00 538,102.50 546,93.00 554,82.00 562,72.00 570,65.00 578,61.60 586,61.60 590,60.60 594,58.75 602,58.50 610,58.50 618,57.75 634,57.75 642,58.90 650,62.70 658,64.80 666,64.75 672,63.75 676,63.75 682,68.00 690,73.00 698,84.40 706,90.00 714,93.00 722,96.25 730,98.00 738,98.00 746,95.60 754,91.25 762,86.25 770,84.00 778,84.00 786,83.00 792,80.60 802,80.60 806,83.75 810,86.90 818,90.00 826,95.60 834,98.00 842,104.40 850,110.60 858,110.60 866,122.50 874,139.40 882,148.75 890,160.30 898,167.50 906,174.40 914,181.25 922,186.90 930,190.25 938,193.00 946,194.00 954,193.75 962,193.00 970,192.30 978,191.70 986,191.50 994,194.40 1002,195.60 1010,195.60 1018,195.25 1026,194.40 1034,194.00 1042,191.90 1050,190.50 1054,189.00 1058,187.00 1062,185.80 1066,185.00 1078,185.00 1082,186.50 1086,187.20 1098,187.50 1122,187.80" fill="none" stroke="#00ff00" stroke-width="2" stroke-linejoin="round" shape-rendering="crispEdges"/>
</g>
<g clip-path="url(#cm)">
<polygon points="19.5,337 13,346.75 19.3,343.65" fill="#808080" stroke="#a9a39c" stroke-width="0.5"/><polygon points="19.5,337 25,346.75 19.3,343.65" fill="#fbfbfd" stroke="#bdbfd0" stroke-width="0.8"/>
<polygon points="147.5,361 141,370.75 147.3,367.65" fill="#808080" stroke="#a9a39c" stroke-width="0.5"/><polygon points="147.5,361 153,370.75 147.3,367.65" fill="#fbfbfd" stroke="#bdbfd0" stroke-width="0.8"/>
<polygon points="187.5,369 181,378.75 187.3,375.65" fill="#808080" stroke="#a9a39c" stroke-width="0.5"/><polygon points="187.5,369 193,378.75 187.3,375.65" fill="#fbfbfd" stroke="#bdbfd0" stroke-width="0.8"/>
<polygon points="219.5,353 213,362.75 219.3,359.65" fill="#808080" stroke="#a9a39c" stroke-width="0.5"/><polygon points="219.5,353 225,362.75 219.3,359.65" fill="#fbfbfd" stroke="#bdbfd0" stroke-width="0.8"/>
<polygon points="275.5,179 269,188.75 275.3,185.65" fill="#808080" stroke="#a9a39c" stroke-width="0.5"/><polygon points="275.5,179 281,188.75 275.3,185.65" fill="#fbfbfd" stroke="#bdbfd0" stroke-width="0.8"/>
<polygon points="315.5,190 309,199.75 315.3,196.65" fill="#808080" stroke="#a9a39c" stroke-width="0.5"/><polygon points="315.5,190 321,199.75 315.3,196.65" fill="#fbfbfd" stroke="#bdbfd0" stroke-width="0.8"/>
<polygon points="379.5,134 373,143.75 379.3,140.65" fill="#808080" stroke="#a9a39c" stroke-width="0.5"/><polygon points="379.5,134 385,143.75 379.3,140.65" fill="#fbfbfd" stroke="#bdbfd0" stroke-width="0.8"/>
<polygon points="443.5,82 437,91.75 443.3,88.65" fill="#808080" stroke="#a9a39c" stroke-width="0.5"/><polygon points="443.5,82 449,91.75 443.3,88.65" fill="#fbfbfd" stroke="#bdbfd0" stroke-width="0.8"/>
<polygon points="531.5,0 525,9.75 531.3,6.65" fill="#808080" stroke="#a9a39c" stroke-width="0.5"/><polygon points="531.5,0 537,9.75 531.3,6.65" fill="#fbfbfd" stroke="#bdbfd0" stroke-width="0.8"/>
<polygon points="595.5,28 589,37.75 595.3,34.65" fill="#808080" stroke="#a9a39c" stroke-width="0.5"/><polygon points="595.5,28 601,37.75 595.3,34.65" fill="#fbfbfd" stroke="#bdbfd0" stroke-width="0.8"/>
<polygon points="651.5,13 645,22.75 651.3,19.65" fill="#808080" stroke="#a9a39c" stroke-width="0.5"/><polygon points="651.5,13 657,22.75 651.3,19.65" fill="#fbfbfd" stroke="#bdbfd0" stroke-width="0.8"/>
<polygon points="691.5,77 685,86.75 691.3,83.65" fill="#808080" stroke="#a9a39c" stroke-width="0.5"/><polygon points="691.5,77 697,86.75 691.3,83.65" fill="#fbfbfd" stroke="#bdbfd0" stroke-width="0.8"/>
<polygon points="739.5,41 733,50.75 739.3,47.65" fill="#808080" stroke="#a9a39c" stroke-width="0.5"/><polygon points="739.5,41 745,50.75 739.3,47.65" fill="#fbfbfd" stroke="#bdbfd0" stroke-width="0.8"/>
<polygon points="771.5,50 765,59.75 771.3,56.65" fill="#808080" stroke="#a9a39c" stroke-width="0.5"/><polygon points="771.5,50 777,59.75 771.3,56.65" fill="#fbfbfd" stroke="#bdbfd0" stroke-width="0.8"/>
<polygon points="835.5,72 829,81.75 835.3,78.65" fill="#808080" stroke="#a9a39c" stroke-width="0.5"/><polygon points="835.5,72 841,81.75 835.3,78.65" fill="#fbfbfd" stroke="#bdbfd0" stroke-width="0.8"/>
<polygon points="931.5,169 925,178.75 931.3,175.65" fill="#808080" stroke="#a9a39c" stroke-width="0.5"/><polygon points="931.5,169 937,178.75 931.3,175.65" fill="#fbfbfd" stroke="#bdbfd0" stroke-width="0.8"/>
<polygon points="1019.5,149 1013,158.75 1019.3,155.65" fill="#808080" stroke="#a9a39c" stroke-width="0.5"/><polygon points="1019.5,149 1025,158.75 1019.3,155.65" fill="#fbfbfd" stroke="#bdbfd0" stroke-width="0.8"/>
<polygon points="1083.5,161 1077,170.75 1083.3,167.65" fill="#808080" stroke="#a9a39c" stroke-width="0.5"/><polygon points="1083.5,161 1089,170.75 1083.3,167.65" fill="#fbfbfd" stroke="#bdbfd0" stroke-width="0.8"/>
<polygon points="42.6,412.75 49,403 42.6,405.5" fill="#808080" stroke="#a9a39c" stroke-width="0.5"/><polygon points="42.6,412.75 37,403 42.6,405.5" fill="#fbfbfd" stroke="#bdbfd0" stroke-width="0.8"/>
<polygon points="66.6,480.75 73,471 66.6,473.5" fill="#808080" stroke="#a9a39c" stroke-width="0.5"/><polygon points="66.6,480.75 61,471 66.6,473.5" fill="#fbfbfd" stroke="#bdbfd0" stroke-width="0.8"/>
<polygon points="138.6,425.75 145,416 138.6,418.5" fill="#808080" stroke="#a9a39c" stroke-width="0.5"/><polygon points="138.6,425.75 133,416 138.6,418.5" fill="#fbfbfd" stroke="#bdbfd0" stroke-width="0.8"/>
<polygon points="202.6,425.75 209,416 202.6,418.5" fill="#808080" stroke="#a9a39c" stroke-width="0.5"/><polygon points="202.6,425.75 197,416 202.6,418.5" fill="#fbfbfd" stroke="#bdbfd0" stroke-width="0.8"/>
<polygon points="298.6,259.75 305,250 298.6,252.5" fill="#808080" stroke="#a9a39c" stroke-width="0.5"/><polygon points="298.6,259.75 293,250 298.6,252.5" fill="#fbfbfd" stroke="#bdbfd0" stroke-width="0.8"/>
<polygon points="330.6,249.75 337,240 330.6,242.5" fill="#808080" stroke="#a9a39c" stroke-width="0.5"/><polygon points="330.6,249.75 325,240 330.6,242.5" fill="#fbfbfd" stroke="#bdbfd0" stroke-width="0.8"/>
<polygon points="394.6,198.75 401,189 394.6,191.5" fill="#808080" stroke="#a9a39c" stroke-width="0.5"/><polygon points="394.6,198.75 389,189 394.6,191.5" fill="#fbfbfd" stroke="#bdbfd0" stroke-width="0.8"/>
<polygon points="442.6,209.75 449,200 442.6,202.5" fill="#808080" stroke="#a9a39c" stroke-width="0.5"/><polygon points="442.6,209.75 437,200 442.6,202.5" fill="#fbfbfd" stroke="#bdbfd0" stroke-width="0.8"/>
<polygon points="562.6,87.75 569,78 562.6,80.5" fill="#808080" stroke="#a9a39c" stroke-width="0.5"/><polygon points="562.6,87.75 557,78 562.6,80.5" fill="#fbfbfd" stroke="#bdbfd0" stroke-width="0.8"/>
<polygon points="586.6,84.75 593,75 586.6,77.5" fill="#808080" stroke="#a9a39c" stroke-width="0.5"/><polygon points="586.6,84.75 581,75 586.6,77.5" fill="#fbfbfd" stroke="#bdbfd0" stroke-width="0.8"/>
<polygon points="634.6,114.75 641,105 634.6,107.5" fill="#808080" stroke="#a9a39c" stroke-width="0.5"/><polygon points="634.6,114.75 629,105 634.6,107.5" fill="#fbfbfd" stroke="#bdbfd0" stroke-width="0.8"/>
<polygon points="674.6,179.75 681,170 674.6,172.5" fill="#808080" stroke="#a9a39c" stroke-width="0.5"/><polygon points="674.6,179.75 669,170 674.6,172.5" fill="#fbfbfd" stroke="#bdbfd0" stroke-width="0.8"/>
<polygon points="746.6,104.75 753,95 746.6,97.5" fill="#808080" stroke="#a9a39c" stroke-width="0.5"/><polygon points="746.6,104.75 741,95 746.6,97.5" fill="#fbfbfd" stroke="#bdbfd0" stroke-width="0.8"/>
<polygon points="786.6,142.75 793,133 786.6,135.5" fill="#808080" stroke="#a9a39c" stroke-width="0.5"/><polygon points="786.6,142.75 781,133 786.6,135.5" fill="#fbfbfd" stroke="#bdbfd0" stroke-width="0.8"/>
<polygon points="842.6,236.75 849,227 842.6,229.5" fill="#808080" stroke="#a9a39c" stroke-width="0.5"/><polygon points="842.6,236.75 837,227 842.6,229.5" fill="#fbfbfd" stroke="#bdbfd0" stroke-width="0.8"/>
<polygon points="866.6,250.75 873,241 866.6,243.5" fill="#808080" stroke="#a9a39c" stroke-width="0.5"/><polygon points="866.6,250.75 861,241 866.6,243.5" fill="#fbfbfd" stroke="#bdbfd0" stroke-width="0.8"/>
<polygon points="898.6,230.75 905,221 898.6,223.5" fill="#808080" stroke="#a9a39c" stroke-width="0.5"/><polygon points="898.6,230.75 893,221 898.6,223.5" fill="#fbfbfd" stroke="#bdbfd0" stroke-width="0.8"/>
<polygon points="970.6,224.75 977,215 970.6,217.5" fill="#808080" stroke="#a9a39c" stroke-width="0.5"/><polygon points="970.6,224.75 965,215 970.6,217.5" fill="#fbfbfd" stroke="#bdbfd0" stroke-width="0.8"/>
<polygon points="1026.6,213.75 1033,204 1026.6,206.5" fill="#808080" stroke="#a9a39c" stroke-width="0.5"/><polygon points="1026.6,213.75 1021,204 1026.6,206.5" fill="#fbfbfd" stroke="#bdbfd0" stroke-width="0.8"/>
<polygon points="1058.6,214.75 1065,205 1058.6,207.5" fill="#808080" stroke="#a9a39c" stroke-width="0.5"/><polygon points="1058.6,214.75 1053,205 1058.6,207.5" fill="#fbfbfd" stroke="#bdbfd0" stroke-width="0.8"/>
</g>
<g fill="none" stroke-linejoin="miter">
<path d="M1114.2,157.8 L1122.6,165.6 L1117.8,165.6 L1117.8,176.3 L1110.8,176.3 L1110.8,165.6 L1105.6,165.6 Z" stroke="#5fcd46" stroke-width="1.1"/>
<path d="M1110.7,187.5 L1110.7,198.9 L1105.3,198.9 L1113.6,205.9 L1122,198.9 L1117.4,198.9 L1117.4,187.5" stroke="#ff5a7a" stroke-width="1.1"/>
<path d="M1110.7,198.9 L1105.3,198.9 L1113.6,205.9 L1122,198.9 L1117.4,198.9" stroke="#ff0000" stroke-width="1.5"/>
</g>
<g clip-path="url(#c1)" shape-rendering="crispEdges">
<rect x="0" y="528" width="4" height="36" fill="#008000"/>
<rect x="2" y="528" width="1" height="1" fill="#fff"/>
<rect x="3" y="528" width="1" height="1" fill="#fff"/>
<rect x="8" y="528" width="4" height="35" fill="#008000"/>
<rect x="8" y="528" width="1" height="1" fill="#fff"/>
<rect x="9" y="528" width="1" height="1" fill="#fff"/>
<rect x="10" y="528" width="1" height="1" fill="#fff"/>
<rect x="16" y="528" width="4" height="33" fill="#008000"/>
<rect x="16" y="528" width="1" height="1" fill="#fff"/>
<rect x="24" y="528" width="4" height="30" fill="#008000"/>
<rect x="26" y="528" width="1" height="1" fill="#fff"/>
<rect x="27" y="528" width="1" height="1" fill="#fff"/>
<rect x="32" y="528" width="4" height="29" fill="#008000"/>
<rect x="32" y="528" width="1" height="1" fill="#fff"/>
<rect x="33" y="528" width="1" height="1" fill="#fff"/>
<rect x="34" y="528" width="1" height="1" fill="#fff"/>
<rect x="40" y="528" width="4" height="28" fill="#008000"/>
<rect x="40" y="528" width="1" height="1" fill="#fff"/>
<rect x="48" y="528" width="4" height="27" fill="#008000"/>
<rect x="50" y="528" width="1" height="1" fill="#fff"/>
<rect x="51" y="528" width="1" height="1" fill="#fff"/>
<rect x="56" y="528" width="4" height="27" fill="#008000"/>
<rect x="56" y="528" width="1" height="1" fill="#fff"/>
<rect x="57" y="528" width="1" height="1" fill="#fff"/>
<rect x="58" y="528" width="1" height="1" fill="#fff"/>
<rect x="64" y="528" width="4" height="29" fill="#ff0000"/>
<rect x="64" y="528" width="1" height="1" fill="#fff"/>
<rect x="72" y="528" width="4" height="32" fill="#ff0000"/>
<rect x="74" y="528" width="1" height="1" fill="#fff"/>
<rect x="75" y="528" width="1" height="1" fill="#fff"/>
<rect x="80" y="528" width="4" height="34" fill="#ff0000"/>
<rect x="80" y="528" width="1" height="1" fill="#fff"/>
<rect x="81" y="528" width="1" height="1" fill="#fff"/>
<rect x="82" y="528" width="1" height="1" fill="#fff"/>
<rect x="88" y="528" width="4" height="36" fill="#ff0000"/>
<rect x="88" y="528" width="1" height="1" fill="#fff"/>
<rect x="96" y="528" width="4" height="38" fill="#ff0000"/>
<rect x="98" y="528" width="1" height="1" fill="#fff"/>
<rect x="99" y="528" width="1" height="1" fill="#fff"/>
<rect x="104" y="528" width="4" height="37" fill="#008000"/>
<rect x="104" y="528" width="1" height="1" fill="#fff"/>
<rect x="105" y="528" width="1" height="1" fill="#fff"/>
<rect x="106" y="528" width="1" height="1" fill="#fff"/>
<rect x="112" y="528" width="4" height="33" fill="#008000"/>
<rect x="112" y="528" width="1" height="1" fill="#fff"/>
<rect x="120" y="528" width="4" height="29" fill="#008000"/>
<rect x="122" y="528" width="1" height="1" fill="#fff"/>
<rect x="123" y="528" width="1" height="1" fill="#fff"/>
<rect x="128" y="528" width="4" height="24" fill="#008000"/>
<rect x="128" y="528" width="1" height="1" fill="#fff"/>
<rect x="129" y="528" width="1" height="1" fill="#fff"/>
<rect x="130" y="528" width="1" height="1" fill="#fff"/>
<rect x="136" y="528" width="4" height="20" fill="#008000"/>
<rect x="136" y="528" width="1" height="1" fill="#fff"/>
<rect x="144" y="528" width="4" height="15" fill="#008000"/>
<rect x="146" y="528" width="1" height="1" fill="#fff"/>
<rect x="147" y="528" width="1" height="1" fill="#fff"/>
<rect x="152" y="528" width="4" height="12" fill="#008000"/>
<rect x="152" y="528" width="1" height="1" fill="#fff"/>
<rect x="153" y="528" width="1" height="1" fill="#fff"/>
<rect x="154" y="528" width="1" height="1" fill="#fff"/>
<rect x="160" y="528" width="4" height="11" fill="#008000"/>
<rect x="160" y="528" width="1" height="1" fill="#fff"/>
<rect x="168" y="528" width="4" height="9" fill="#008000"/>
<rect x="170" y="528" width="1" height="1" fill="#fff"/>
<rect x="171" y="528" width="1" height="1" fill="#fff"/>
<rect x="176" y="528" width="4" height="7" fill="#008000"/>
<rect x="176" y="528" width="1" height="1" fill="#fff"/>
<rect x="177" y="528" width="1" height="1" fill="#fff"/>
<rect x="178" y="528" width="1" height="1" fill="#fff"/>
<rect x="184" y="528" width="4" height="6" fill="#008000"/>
<rect x="184" y="528" width="1" height="1" fill="#fff"/>
<rect x="192" y="528" width="4" height="4" fill="#008000"/>
<rect x="194" y="528" width="1" height="1" fill="#fff"/>
<rect x="195" y="528" width="1" height="1" fill="#fff"/>
<rect x="200" y="528" width="4" height="2" fill="#008000"/>
<rect x="200" y="528" width="1" height="1" fill="#fff"/>
<rect x="201" y="528" width="1" height="1" fill="#fff"/>
<rect x="202" y="528" width="1" height="1" fill="#fff"/>
<rect x="208" y="528" width="4" height="1" fill="#008000"/>
<rect x="208" y="528" width="1" height="1" fill="#fff"/>
<rect x="216" y="527" width="4" height="1" fill="#008000"/>
<rect x="216" y="528" width="4" height="1" fill="#fff"/>
<rect x="224" y="526" width="4" height="2" fill="#008000"/>
<rect x="224" y="528" width="4" height="1" fill="#fff"/>
<rect x="232" y="525" width="4" height="3" fill="#008000"/>
<rect x="232" y="528" width="4" height="1" fill="#fff"/>
<rect x="240" y="523" width="4" height="5" fill="#008000"/>
<rect x="240" y="528" width="4" height="1" fill="#fff"/>
<rect x="248" y="520" width="4" height="8" fill="#008000"/>
<rect x="248" y="528" width="4" height="1" fill="#fff"/>
<rect x="256" y="514" width="4" height="14" fill="#008000"/>
<rect x="256" y="528" width="4" height="1" fill="#fff"/>
<rect x="264" y="506" width="4" height="22" fill="#008000"/>
<rect x="264" y="528" width="4" height="1" fill="#fff"/>
<rect x="272" y="498" width="4" height="30" fill="#008000"/>
<rect x="272" y="528" width="4" height="1" fill="#fff"/>
<rect x="280" y="490" width="4" height="38" fill="#008000"/>
<rect x="280" y="528" width="4" height="1" fill="#fff"/>
<rect x="288" y="484" width="4" height="44" fill="#008000"/>
<rect x="288" y="528" width="4" height="1" fill="#fff"/>
<rect x="296" y="484" width="4" height="44" fill="#008000"/>
<rect x="296" y="528" width="4" height="1" fill="#fff"/>
<rect x="304" y="486" width="4" height="42" fill="#ff0000"/>
<rect x="304" y="528" width="4" height="1" fill="#fff"/>
<rect x="312" y="487" width="4" height="41" fill="#ff0000"/>
<rect x="312" y="528" width="4" height="1" fill="#fff"/>
<rect x="320" y="489" width="4" height="39" fill="#ff0000"/>
<rect x="320" y="528" width="4" height="1" fill="#fff"/>
<rect x="328" y="492" width="4" height="36" fill="#ff0000"/>
<rect x="328" y="528" width="4" height="1" fill="#fff"/>
<rect x="336" y="493" width="4" height="35" fill="#ff0000"/>
<rect x="336" y="528" width="4" height="1" fill="#fff"/>
<rect x="344" y="493" width="4" height="35" fill="#008000"/>
<rect x="344" y="528" width="4" height="1" fill="#fff"/>
<rect x="352" y="494" width="4" height="34" fill="#ff0000"/>
<rect x="352" y="528" width="4" height="1" fill="#fff"/>
<rect x="360" y="494" width="4" height="34" fill="#ff0000"/>
<rect x="360" y="528" width="4" height="1" fill="#fff"/>
<rect x="368" y="493" width="4" height="35" fill="#008000"/>
<rect x="368" y="528" width="4" height="1" fill="#fff"/>
<rect x="376" y="493" width="4" height="35" fill="#008000"/>
<rect x="376" y="528" width="4" height="1" fill="#fff"/>
<rect x="384" y="493" width="4" height="35" fill="#ff0000"/>
<rect x="384" y="528" width="4" height="1" fill="#fff"/>
<rect x="392" y="494" width="4" height="34" fill="#ff0000"/>
<rect x="392" y="528" width="4" height="1" fill="#fff"/>
<rect x="400" y="496" width="4" height="32" fill="#ff0000"/>
<rect x="400" y="528" width="4" height="1" fill="#fff"/>
<rect x="408" y="497" width="4" height="31" fill="#ff0000"/>
<rect x="408" y="528" width="4" height="1" fill="#fff"/>
<rect x="416" y="499" width="4" height="29" fill="#ff0000"/>
<rect x="416" y="528" width="4" height="1" fill="#fff"/>
<rect x="424" y="501" width="4" height="27" fill="#ff0000"/>
<rect x="424" y="528" width="4" height="1" fill="#fff"/>
<rect x="432" y="501" width="4" height="27" fill="#ff0000"/>
<rect x="432" y="528" width="4" height="1" fill="#fff"/>
<rect x="440" y="501" width="4" height="27" fill="#ff0000"/>
<rect x="440" y="528" width="4" height="1" fill="#fff"/>
<rect x="448" y="503" width="4" height="25" fill="#ff0000"/>
<rect x="448" y="528" width="4" height="1" fill="#fff"/>
<rect x="456" y="503" width="4" height="25" fill="#ff0000"/>
<rect x="456" y="528" width="4" height="1" fill="#fff"/>
<rect x="464" y="504" width="4" height="24" fill="#ff0000"/>
<rect x="464" y="528" width="4" height="1" fill="#fff"/>
<rect x="472" y="505" width="4" height="23" fill="#ff0000"/>
<rect x="472" y="528" width="4" height="1" fill="#fff"/>
<rect x="480" y="505" width="4" height="23" fill="#ff0000"/>
<rect x="480" y="528" width="4" height="1" fill="#fff"/>
<rect x="488" y="505" width="4" height="23" fill="#008000"/>
<rect x="488" y="528" width="4" height="1" fill="#fff"/>
<rect x="496" y="504" width="4" height="24" fill="#008000"/>
<rect x="496" y="528" width="4" height="1" fill="#fff"/>
<rect x="504" y="504" width="4" height="24" fill="#008000"/>
<rect x="504" y="528" width="4" height="1" fill="#fff"/>
<rect x="512" y="503" width="4" height="25" fill="#008000"/>
<rect x="512" y="528" width="4" height="1" fill="#fff"/>
<rect x="520" y="502" width="4" height="26" fill="#008000"/>
<rect x="520" y="528" width="4" height="1" fill="#fff"/>
<rect x="528" y="500" width="4" height="28" fill="#008000"/>
<rect x="528" y="528" width="4" height="1" fill="#fff"/>
<rect x="536" y="498" width="4" height="30" fill="#008000"/>
<rect x="536" y="528" width="4" height="1" fill="#fff"/>
<rect x="544" y="497" width="4" height="31" fill="#008000"/>
<rect x="544" y="528" width="4" height="1" fill="#fff"/>
<rect x="552" y="498" width="4" height="30" fill="#ff0000"/>
<rect x="552" y="528" width="4" height="1" fill="#fff"/>
<rect x="560" y="500" width="4" height="28" fill="#ff0000"/>
<rect x="560" y="528" width="4" height="1" fill="#fff"/>
<rect x="568" y="502" width="4" height="26" fill="#ff0000"/>
<rect x="568" y="528" width="4" height="1" fill="#fff"/>
<rect x="576" y="504" width="4" height="24" fill="#ff0000"/>
<rect x="576" y="528" width="4" height="1" fill="#fff"/>
<rect x="584" y="507" width="4" height="21" fill="#ff0000"/>
<rect x="584" y="528" width="4" height="1" fill="#fff"/>
<rect x="592" y="509" width="4" height="19" fill="#ff0000"/>
<rect x="592" y="528" width="4" height="1" fill="#fff"/>
<rect x="600" y="510" width="4" height="18" fill="#ff0000"/>
<rect x="600" y="528" width="4" height="1" fill="#fff"/>
<rect x="608" y="512" width="4" height="16" fill="#ff0000"/>
<rect x="608" y="528" width="4" height="1" fill="#fff"/>
<rect x="616" y="514" width="4" height="14" fill="#ff0000"/>
<rect x="616" y="528" width="4" height="1" fill="#fff"/>
<rect x="624" y="515" width="4" height="13" fill="#ff0000"/>
<rect x="624" y="528" width="4" height="1" fill="#fff"/>
<rect x="632" y="518" width="4" height="10" fill="#ff0000"/>
<rect x="632" y="528" width="4" height="1" fill="#fff"/>
<rect x="640" y="519" width="4" height="9" fill="#ff0000"/>
<rect x="640" y="528" width="4" height="1" fill="#fff"/>
<rect x="648" y="520" width="4" height="8" fill="#ff0000"/>
<rect x="648" y="528" width="4" height="1" fill="#fff"/>
<rect x="656" y="522" width="4" height="6" fill="#ff0000"/>
<rect x="656" y="528" width="4" height="1" fill="#fff"/>
<rect x="664" y="523" width="4" height="5" fill="#ff0000"/>
<rect x="664" y="528" width="4" height="1" fill="#fff"/>
<rect x="672" y="527" width="4" height="1" fill="#ff0000"/>
<rect x="672" y="528" width="4" height="1" fill="#fff"/>
<rect x="680" y="528" width="4" height="2" fill="#ff0000"/>
<rect x="680" y="528" width="1" height="1" fill="#fff"/>
<rect x="681" y="528" width="1" height="1" fill="#fff"/>
<rect x="682" y="528" width="1" height="1" fill="#fff"/>
<rect x="688" y="528" width="4" height="5" fill="#ff0000"/>
<rect x="688" y="528" width="1" height="1" fill="#fff"/>
<rect x="696" y="528" width="4" height="7" fill="#ff0000"/>
<rect x="698" y="528" width="1" height="1" fill="#fff"/>
<rect x="699" y="528" width="1" height="1" fill="#fff"/>
<rect x="704" y="528" width="4" height="8" fill="#ff0000"/>
<rect x="704" y="528" width="1" height="1" fill="#fff"/>
<rect x="705" y="528" width="1" height="1" fill="#fff"/>
<rect x="706" y="528" width="1" height="1" fill="#fff"/>
<rect x="712" y="528" width="4" height="6" fill="#008000"/>
<rect x="712" y="528" width="1" height="1" fill="#fff"/>
<rect x="720" y="528" width="4" height="5" fill="#008000"/>
<rect x="722" y="528" width="1" height="1" fill="#fff"/>
<rect x="723" y="528" width="1" height="1" fill="#fff"/>
<rect x="728" y="528" width="4" height="4" fill="#008000"/>
<rect x="728" y="528" width="1" height="1" fill="#fff"/>
<rect x="729" y="528" width="1" height="1" fill="#fff"/>
<rect x="730" y="528" width="1" height="1" fill="#fff"/>
<rect x="736" y="528" width="4" height="2" fill="#008000"/>
<rect x="736" y="528" width="1" height="1" fill="#fff"/>
<rect x="744" y="528" width="4" height="1" fill="#008000"/>
<rect x="746" y="528" width="1" height="1" fill="#fff"/>
<rect x="747" y="528" width="1" height="1" fill="#fff"/>
<rect x="752" y="528" width="4" height="1" fill="#008000"/>
<rect x="752" y="528" width="1" height="1" fill="#fff"/>
<rect x="753" y="528" width="1" height="1" fill="#fff"/>
<rect x="754" y="528" width="1" height="1" fill="#fff"/>
<rect x="760" y="528" width="4" height="1" fill="#008000"/>
<rect x="760" y="528" width="1" height="1" fill="#fff"/>
<rect x="768" y="528" width="4" height="1" fill="#ff0000"/>
<rect x="770" y="528" width="1" height="1" fill="#fff"/>
<rect x="771" y="528" width="1" height="1" fill="#fff"/>
<rect x="776" y="528" width="4" height="1" fill="#ff0000"/>
<rect x="776" y="528" width="1" height="1" fill="#fff"/>
<rect x="777" y="528" width="1" height="1" fill="#fff"/>
<rect x="778" y="528" width="1" height="1" fill="#fff"/>
<rect x="784" y="528" width="4" height="3" fill="#ff0000"/>
<rect x="784" y="528" width="1" height="1" fill="#fff"/>
<rect x="792" y="528" width="4" height="4" fill="#ff0000"/>
<rect x="794" y="528" width="1" height="1" fill="#fff"/>
<rect x="795" y="528" width="1" height="1" fill="#fff"/>
<rect x="800" y="528" width="4" height="5" fill="#ff0000"/>
<rect x="800" y="528" width="1" height="1" fill="#fff"/>
<rect x="801" y="528" width="1" height="1" fill="#fff"/>
<rect x="802" y="528" width="1" height="1" fill="#fff"/>
<rect x="808" y="528" width="4" height="7" fill="#ff0000"/>
<rect x="808" y="528" width="1" height="1" fill="#fff"/>
<rect x="816" y="528" width="4" height="8" fill="#ff0000"/>
<rect x="818" y="528" width="1" height="1" fill="#fff"/>
<rect x="819" y="528" width="1" height="1" fill="#fff"/>
<rect x="824" y="528" width="4" height="9" fill="#ff0000"/>
<rect x="824" y="528" width="1" height="1" fill="#fff"/>
<rect x="825" y="528" width="1" height="1" fill="#fff"/>
<rect x="826" y="528" width="1" height="1" fill="#fff"/>
<rect x="832" y="528" width="4" height="9" fill="#ff0000"/>
<rect x="832" y="528" width="1" height="1" fill="#fff"/>
<rect x="840" y="528" width="4" height="12" fill="#ff0000"/>
<rect x="842" y="528" width="1" height="1" fill="#fff"/>
<rect x="843" y="528" width="1" height="1" fill="#fff"/>
<rect x="848" y="528" width="4" height="16" fill="#ff0000"/>
<rect x="848" y="528" width="1" height="1" fill="#fff"/>
<rect x="849" y="528" width="1" height="1" fill="#fff"/>
<rect x="850" y="528" width="1" height="1" fill="#fff"/>
<rect x="856" y="528" width="4" height="18" fill="#ff0000"/>
<rect x="856" y="528" width="1" height="1" fill="#fff"/>
<rect x="864" y="528" width="4" height="21" fill="#ff0000"/>
<rect x="866" y="528" width="1" height="1" fill="#fff"/>
<rect x="867" y="528" width="1" height="1" fill="#fff"/>
<rect x="872" y="528" width="4" height="25" fill="#ff0000"/>
<rect x="872" y="528" width="1" height="1" fill="#fff"/>
<rect x="873" y="528" width="1" height="1" fill="#fff"/>
<rect x="874" y="528" width="1" height="1" fill="#fff"/>
<rect x="880" y="528" width="4" height="25" fill="#ff0000"/>
<rect x="880" y="528" width="1" height="1" fill="#fff"/>
<rect x="888" y="528" width="4" height="24" fill="#008000"/>
<rect x="890" y="528" width="1" height="1" fill="#fff"/>
<rect x="891" y="528" width="1" height="1" fill="#fff"/>
<rect x="896" y="528" width="4" height="24" fill="#008000"/>
<rect x="896" y="528" width="1" height="1" fill="#fff"/>
<rect x="897" y="528" width="1" height="1" fill="#fff"/>
<rect x="898" y="528" width="1" height="1" fill="#fff"/>
<rect x="904" y="528" width="4" height="22" fill="#008000"/>
<rect x="904" y="528" width="1" height="1" fill="#fff"/>
<rect x="912" y="528" width="4" height="21" fill="#008000"/>
<rect x="914" y="528" width="1" height="1" fill="#fff"/>
<rect x="915" y="528" width="1" height="1" fill="#fff"/>
<rect x="920" y="528" width="4" height="20" fill="#008000"/>
<rect x="920" y="528" width="1" height="1" fill="#fff"/>
<rect x="921" y="528" width="1" height="1" fill="#fff"/>
<rect x="922" y="528" width="1" height="1" fill="#fff"/>
<rect x="928" y="528" width="4" height="19" fill="#008000"/>
<rect x="928" y="528" width="1" height="1" fill="#fff"/>
<rect x="936" y="528" width="4" height="17" fill="#008000"/>
<rect x="938" y="528" width="1" height="1" fill="#fff"/>
<rect x="939" y="528" width="1" height="1" fill="#fff"/>
<rect x="944" y="528" width="4" height="16" fill="#008000"/>
<rect x="944" y="528" width="1" height="1" fill="#fff"/>
<rect x="945" y="528" width="1" height="1" fill="#fff"/>
<rect x="946" y="528" width="1" height="1" fill="#fff"/>
<rect x="952" y="528" width="4" height="14" fill="#008000"/>
<rect x="952" y="528" width="1" height="1" fill="#fff"/>
<rect x="960" y="528" width="4" height="13" fill="#008000"/>
<rect x="962" y="528" width="1" height="1" fill="#fff"/>
<rect x="963" y="528" width="1" height="1" fill="#fff"/>
<rect x="968" y="528" width="4" height="13" fill="#008000"/>
<rect x="968" y="528" width="1" height="1" fill="#fff"/>
<rect x="969" y="528" width="1" height="1" fill="#fff"/>
<rect x="970" y="528" width="1" height="1" fill="#fff"/>
<rect x="976" y="528" width="4" height="13" fill="#008000"/>
<rect x="976" y="528" width="1" height="1" fill="#fff"/>
<rect x="984" y="528" width="4" height="12" fill="#008000"/>
<rect x="986" y="528" width="1" height="1" fill="#fff"/>
<rect x="987" y="528" width="1" height="1" fill="#fff"/>
<rect x="992" y="528" width="4" height="11" fill="#008000"/>
<rect x="992" y="528" width="1" height="1" fill="#fff"/>
<rect x="993" y="528" width="1" height="1" fill="#fff"/>
<rect x="994" y="528" width="1" height="1" fill="#fff"/>
<rect x="1000" y="528" width="4" height="10" fill="#008000"/>
<rect x="1000" y="528" width="1" height="1" fill="#fff"/>
<rect x="1008" y="528" width="4" height="9" fill="#008000"/>
<rect x="1010" y="528" width="1" height="1" fill="#fff"/>
<rect x="1011" y="528" width="1" height="1" fill="#fff"/>
<rect x="1016" y="528" width="4" height="7" fill="#008000"/>
<rect x="1016" y="528" width="1" height="1" fill="#fff"/>
<rect x="1017" y="528" width="1" height="1" fill="#fff"/>
<rect x="1018" y="528" width="1" height="1" fill="#fff"/>
<rect x="1024" y="528" width="4" height="5" fill="#008000"/>
<rect x="1024" y="528" width="1" height="1" fill="#fff"/>
<rect x="1032" y="528" width="4" height="3" fill="#008000"/>
<rect x="1034" y="528" width="1" height="1" fill="#fff"/>
<rect x="1035" y="528" width="1" height="1" fill="#fff"/>
<rect x="1040" y="528" width="4" height="2" fill="#008000"/>
<rect x="1040" y="528" width="1" height="1" fill="#fff"/>
<rect x="1041" y="528" width="1" height="1" fill="#fff"/>
<rect x="1042" y="528" width="1" height="1" fill="#fff"/>
<rect x="1048" y="528" width="4" height="1" fill="#008000"/>
<rect x="1048" y="528" width="1" height="1" fill="#fff"/>
<rect x="1056" y="528" width="4" height="1" fill="#ff0000"/>
<rect x="1058" y="528" width="1" height="1" fill="#fff"/>
<rect x="1059" y="528" width="1" height="1" fill="#fff"/>
<rect x="1064" y="528" width="4" height="1" fill="#008000"/>
<rect x="1064" y="528" width="1" height="1" fill="#fff"/>
<rect x="1065" y="528" width="1" height="1" fill="#fff"/>
<rect x="1066" y="528" width="1" height="1" fill="#fff"/>
<rect x="1072" y="528" width="4" height="1" fill="#008000"/>
<rect x="1072" y="528" width="1" height="1" fill="#fff"/>
<rect x="1080" y="528" width="4" height="1" fill="#008000"/>
<rect x="1082" y="528" width="1" height="1" fill="#fff"/>
<rect x="1083" y="528" width="1" height="1" fill="#fff"/>
<rect x="1088" y="528" width="4" height="1" fill="#ff0000"/>
<rect x="1088" y="528" width="1" height="1" fill="#fff"/>
<rect x="1089" y="528" width="1" height="1" fill="#fff"/>
<rect x="1090" y="528" width="1" height="1" fill="#fff"/>
<rect x="1096" y="527" width="4" height="1" fill="#008000"/>
<rect x="1096" y="528" width="4" height="1" fill="#fff"/>
</g>
<g clip-path="url(#c2)" shape-rendering="crispEdges">
<rect x="0" y="644" width="4" height="11" fill="#008000"/>
<rect x="2" y="644" width="1" height="1" fill="#fff"/>
<rect x="3" y="644" width="1" height="1" fill="#fff"/>
<rect x="8" y="641" width="4" height="3" fill="#008000"/>
<rect x="8" y="644" width="4" height="1" fill="#fff"/>
<rect x="16" y="633" width="4" height="11" fill="#008000"/>
<rect x="16" y="644" width="4" height="1" fill="#fff"/>
<rect x="24" y="630" width="4" height="14" fill="#008000"/>
<rect x="24" y="644" width="4" height="1" fill="#fff"/>
<rect x="32" y="629" width="4" height="15" fill="#008000"/>
<rect x="32" y="644" width="4" height="1" fill="#fff"/>
<rect x="40" y="633" width="4" height="11" fill="#ff0000"/>
<rect x="40" y="644" width="4" height="1" fill="#fff"/>
<rect x="48" y="637" width="4" height="7" fill="#ff0000"/>
<rect x="48" y="644" width="4" height="1" fill="#fff"/>
<rect x="56" y="640" width="4" height="4" fill="#ff0000"/>
<rect x="56" y="644" width="4" height="1" fill="#fff"/>
<rect x="64" y="644" width="4" height="4" fill="#ff0000"/>
<rect x="64" y="644" width="1" height="1" fill="#fff"/>
<rect x="72" y="644" width="4" height="14" fill="#ff0000"/>
<rect x="74" y="644" width="1" height="1" fill="#fff"/>
<rect x="75" y="644" width="1" height="1" fill="#fff"/>
<rect x="80" y="644" width="4" height="16" fill="#ff0000"/>
<rect x="80" y="644" width="1" height="1" fill="#fff"/>
<rect x="81" y="644" width="1" height="1" fill="#fff"/>
<rect x="82" y="644" width="1" height="1" fill="#fff"/>
<rect x="88" y="644" width="4" height="17" fill="#ff0000"/>
<rect x="88" y="644" width="1" height="1" fill="#fff"/>
<rect x="96" y="644" width="4" height="16" fill="#008000"/>
<rect x="98" y="644" width="1" height="1" fill="#fff"/>
<rect x="99" y="644" width="1" height="1" fill="#fff"/>
<rect x="104" y="644" width="4" height="6" fill="#008000"/>
<rect x="104" y="644" width="1" height="1" fill="#fff"/>
<rect x="105" y="644" width="1" height="1" fill="#fff"/>
<rect x="106" y="644" width="1" height="1" fill="#fff"/>
<rect x="112" y="635" width="4" height="9" fill="#008000"/>
<rect x="112" y="644" width="4" height="1" fill="#fff"/>
<rect x="120" y="622" width="4" height="22" fill="#008000"/>
<rect x="120" y="644" width="4" height="1" fill="#fff"/>
<rect x="128" y="612" width="4" height="32" fill="#008000"/>
<rect x="128" y="644" width="4" height="1" fill="#fff"/>
<rect x="136" y="610" width="4" height="34" fill="#008000"/>
<rect x="136" y="644" width="4" height="1" fill="#fff"/>
<rect x="144" y="610" width="4" height="34" fill="#ff0000"/>
<rect x="144" y="644" width="4" height="1" fill="#fff"/>
<rect x="152" y="616" width="4" height="28" fill="#ff0000"/>
<rect x="152" y="644" width="4" height="1" fill="#fff"/>
<rect x="160" y="623" width="4" height="21" fill="#ff0000"/>
<rect x="160" y="644" width="4" height="1" fill="#fff"/>
<rect x="168" y="628" width="4" height="16" fill="#ff0000"/>
<rect x="168" y="644" width="4" height="1" fill="#fff"/>
<rect x="176" y="630" width="4" height="14" fill="#ff0000"/>
<rect x="176" y="644" width="4" height="1" fill="#fff"/>
<rect x="184" y="631" width="4" height="13" fill="#ff0000"/>
<rect x="184" y="644" width="4" height="1" fill="#fff"/>
<rect x="192" y="630" width="4" height="14" fill="#008000"/>
<rect x="192" y="644" width="4" height="1" fill="#fff"/>
<rect x="200" y="631" width="4" height="13" fill="#ff0000"/>
<rect x="200" y="644" width="4" height="1" fill="#fff"/>
<rect x="208" y="633" width="4" height="11" fill="#ff0000"/>
<rect x="208" y="644" width="4" height="1" fill="#fff"/>
<rect x="216" y="633" width="4" height="11" fill="#ff0000"/>
<rect x="216" y="644" width="4" height="1" fill="#fff"/>
<rect x="224" y="635" width="4" height="9" fill="#ff0000"/>
<rect x="224" y="644" width="4" height="1" fill="#fff"/>
<rect x="232" y="636" width="4" height="8" fill="#ff0000"/>
<rect x="232" y="644" width="4" height="1" fill="#fff"/>
<rect x="240" y="634" width="4" height="10" fill="#008000"/>
<rect x="240" y="644" width="4" height="1" fill="#fff"/>
<rect x="248" y="628" width="4" height="16" fill="#008000"/>
<rect x="248" y="644" width="4" height="1" fill="#fff"/>
<rect x="256" y="615" width="4" height="29" fill="#008000"/>
<rect x="256" y="644" width="4" height="1" fill="#fff"/>
<rect x="264" y="601" width="4" height="43" fill="#008000"/>
<rect x="264" y="644" width="4" height="1" fill="#fff"/>
<rect x="272" y="591" width="4" height="53" fill="#008000"/>
<rect x="272" y="644" width="4" height="1" fill="#fff"/>
<rect x="280" y="586" width="4" height="58" fill="#008000"/>
<rect x="280" y="644" width="4" height="1" fill="#fff"/>
<rect x="288" y="590" width="4" height="54" fill="#ff0000"/>
<rect x="288" y="644" width="4" height="1" fill="#fff"/>
<rect x="296" y="611" width="4" height="33" fill="#ff0000"/>
<rect x="296" y="644" width="4" height="1" fill="#fff"/>
<rect x="304" y="634" width="4" height="10" fill="#ff0000"/>
<rect x="304" y="644" width="4" height="1" fill="#fff"/>
<rect x="312" y="644" width="4" height="4" fill="#ff0000"/>
<rect x="314" y="644" width="1" height="1" fill="#fff"/>
<rect x="315" y="644" width="1" height="1" fill="#fff"/>
<rect x="320" y="644" width="4" height="13" fill="#ff0000"/>
<rect x="320" y="644" width="1" height="1" fill="#fff"/>
<rect x="321" y="644" width="1" height="1" fill="#fff"/>
<rect x="322" y="644" width="1" height="1" fill="#fff"/>
<rect x="328" y="644" width="4" height="17" fill="#ff0000"/>
<rect x="328" y="644" width="1" height="1" fill="#fff"/>
<rect x="336" y="644" width="4" height="13" fill="#008000"/>
<rect x="338" y="644" width="1" height="1" fill="#fff"/>
<rect x="339" y="644" width="1" height="1" fill="#fff"/>
<rect x="344" y="644" width="4" height="8" fill="#008000"/>
<rect x="344" y="644" width="1" height="1" fill="#fff"/>
<rect x="345" y="644" width="1" height="1" fill="#fff"/>
<rect x="346" y="644" width="1" height="1" fill="#fff"/>
<rect x="352" y="644" width="4" height="6" fill="#008000"/>
<rect x="352" y="644" width="1" height="1" fill="#fff"/>
<rect x="360" y="644" width="4" height="4" fill="#008000"/>
<rect x="362" y="644" width="1" height="1" fill="#fff"/>
<rect x="363" y="644" width="1" height="1" fill="#fff"/>
<rect x="368" y="644" width="4" height="1" fill="#008000"/>
<rect x="368" y="644" width="1" height="1" fill="#fff"/>
<rect x="369" y="644" width="1" height="1" fill="#fff"/>
<rect x="370" y="644" width="1" height="1" fill="#fff"/>
<rect x="376" y="642" width="4" height="2" fill="#008000"/>
<rect x="376" y="644" width="4" height="1" fill="#fff"/>
<rect x="384" y="644" width="4" height="1" fill="#ff0000"/>
<rect x="386" y="644" width="1" height="1" fill="#fff"/>
<rect x="387" y="644" width="1" height="1" fill="#fff"/>
<rect x="392" y="644" width="4" height="2" fill="#ff0000"/>
<rect x="392" y="644" width="1" height="1" fill="#fff"/>
<rect x="393" y="644" width="1" height="1" fill="#fff"/>
<rect x="394" y="644" width="1" height="1" fill="#fff"/>
<rect x="400" y="644" width="4" height="6" fill="#ff0000"/>
<rect x="400" y="644" width="1" height="1" fill="#fff"/>
<rect x="408" y="644" width="4" height="10" fill="#ff0000"/>
<rect x="410" y="644" width="1" height="1" fill="#fff"/>
<rect x="411" y="644" width="1" height="1" fill="#fff"/>
<rect x="416" y="644" width="4" height="13" fill="#ff0000"/>
<rect x="416" y="644" width="1" height="1" fill="#fff"/>
<rect x="417" y="644" width="1" height="1" fill="#fff"/>
<rect x="418" y="644" width="1" height="1" fill="#fff"/>
<rect x="424" y="644" width="4" height="13" fill="#008000"/>
<rect x="424" y="644" width="1" height="1" fill="#fff"/>
<rect x="432" y="644" width="4" height="9" fill="#008000"/>
<rect x="434" y="644" width="1" height="1" fill="#fff"/>
<rect x="435" y="644" width="1" height="1" fill="#fff"/>
<rect x="440" y="644" width="4" height="6" fill="#008000"/>
<rect x="440" y="644" width="1" height="1" fill="#fff"/>
<rect x="441" y="644" width="1" height="1" fill="#fff"/>
<rect x="442" y="644" width="1" height="1" fill="#fff"/>
<rect x="448" y="644" width="4" height="6" fill="#ff0000"/>
<rect x="448" y="644" width="1" height="1" fill="#fff"/>
<rect x="456" y="644" width="4" height="6" fill="#ff0000"/>
<rect x="458" y="644" width="1" height="1" fill="#fff"/>
<rect x="459" y="644" width="1" height="1" fill="#fff"/>
<rect x="464" y="644" width="4" height="6" fill="#008000"/>
<rect x="464" y="644" width="1" height="1" fill="#fff"/>
<rect x="465" y="644" width="1" height="1" fill="#fff"/>
<rect x="466" y="644" width="1" height="1" fill="#fff"/>
<rect x="472" y="644" width="4" height="5" fill="#008000"/>
<rect x="472" y="644" width="1" height="1" fill="#fff"/>
<rect x="480" y="644" width="4" height="5" fill="#008000"/>
<rect x="482" y="644" width="1" height="1" fill="#fff"/>
<rect x="483" y="644" width="1" height="1" fill="#fff"/>
<rect x="488" y="644" width="4" height="2" fill="#008000"/>
<rect x="488" y="644" width="1" height="1" fill="#fff"/>
<rect x="489" y="644" width="1" height="1" fill="#fff"/>
<rect x="490" y="644" width="1" height="1" fill="#fff"/>
<rect x="496" y="643" width="4" height="1" fill="#008000"/>
<rect x="496" y="644" width="4" height="1" fill="#fff"/>
<rect x="504" y="642" width="4" height="2" fill="#008000"/>
<rect x="504" y="644" width="4" height="1" fill="#fff"/>
<rect x="512" y="639" width="4" height="5" fill="#008000"/>
<rect x="512" y="644" width="4" height="1" fill="#fff"/>
<rect x="520" y="638" width="4" height="6" fill="#008000"/>
<rect x="520" y="644" width="4" height="1" fill="#fff"/>
<rect x="528" y="634" width="4" height="10" fill="#008000"/>
<rect x="528" y="644" width="4" height="1" fill="#fff"/>
<rect x="536" y="632" width="4" height="12" fill="#008000"/>
<rect x="536" y="644" width="4" height="1" fill="#fff"/>
<rect x="544" y="634" width="4" height="10" fill="#ff0000"/>
<rect x="544" y="644" width="4" height="1" fill="#fff"/>
<rect x="552" y="641" width="4" height="3" fill="#ff0000"/>
<rect x="552" y="644" width="4" height="1" fill="#fff"/>
<rect x="560" y="644" width="4" height="5" fill="#ff0000"/>
<rect x="560" y="644" width="1" height="1" fill="#fff"/>
<rect x="561" y="644" width="1" height="1" fill="#fff"/>
<rect x="562" y="644" width="1" height="1" fill="#fff"/>
<rect x="568" y="644" width="4" height="12" fill="#ff0000"/>
<rect x="568" y="644" width="1" height="1" fill="#fff"/>
<rect x="576" y="644" width="4" height="16" fill="#ff0000"/>
<rect x="578" y="644" width="1" height="1" fill="#fff"/>
<rect x="579" y="644" width="1" height="1" fill="#fff"/>
<rect x="584" y="644" width="4" height="19" fill="#ff0000"/>
<rect x="584" y="644" width="1" height="1" fill="#fff"/>
<rect x="585" y="644" width="1" height="1" fill="#fff"/>
<rect x="586" y="644" width="1" height="1" fill="#fff"/>
<rect x="592" y="644" width="4" height="17" fill="#008000"/>
<rect x="592" y="644" width="1" height="1" fill="#fff"/>
<rect x="600" y="644" width="4" height="13" fill="#008000"/>
<rect x="602" y="644" width="1" height="1" fill="#fff"/>
<rect x="603" y="644" width="1" height="1" fill="#fff"/>
<rect x="608" y="644" width="4" height="13" fill="#008000"/>
<rect x="608" y="644" width="1" height="1" fill="#fff"/>
<rect x="609" y="644" width="1" height="1" fill="#fff"/>
<rect x="610" y="644" width="1" height="1" fill="#fff"/>
<rect x="616" y="644" width="4" height="12" fill="#008000"/>
<rect x="616" y="644" width="1" height="1" fill="#fff"/>
<rect x="624" y="644" width="4" height="13" fill="#ff0000"/>
<rect x="626" y="644" width="1" height="1" fill="#fff"/>
<rect x="627" y="644" width="1" height="1" fill="#fff"/>
<rect x="632" y="644" width="4" height="15" fill="#ff0000"/>
<rect x="632" y="644" width="1" height="1" fill="#fff"/>
<rect x="633" y="644" width="1" height="1" fill="#fff"/>
<rect x="634" y="644" width="1" height="1" fill="#fff"/>
<rect x="640" y="644" width="4" height="14" fill="#008000"/>
<rect x="640" y="644" width="1" height="1" fill="#fff"/>
<rect x="648" y="644" width="4" height="10" fill="#008000"/>
<rect x="650" y="644" width="1" height="1" fill="#fff"/>
<rect x="651" y="644" width="1" height="1" fill="#fff"/>
<rect x="656" y="644" width="4" height="12" fill="#ff0000"/>
<rect x="656" y="644" width="1" height="1" fill="#fff"/>
<rect x="657" y="644" width="1" height="1" fill="#fff"/>
<rect x="658" y="644" width="1" height="1" fill="#fff"/>
<rect x="664" y="644" width="4" height="13" fill="#ff0000"/>
<rect x="664" y="644" width="1" height="1" fill="#fff"/>
<rect x="672" y="644" width="4" height="18" fill="#ff0000"/>
<rect x="674" y="644" width="1" height="1" fill="#fff"/>
<rect x="675" y="644" width="1" height="1" fill="#fff"/>
<rect x="680" y="644" width="4" height="22" fill="#ff0000"/>
<rect x="680" y="644" width="1" height="1" fill="#fff"/>
<rect x="681" y="644" width="1" height="1" fill="#fff"/>
<rect x="682" y="644" width="1" height="1" fill="#fff"/>
<rect x="688" y="644" width="4" height="24" fill="#ff0000"/>
<rect x="688" y="644" width="1" height="1" fill="#fff"/>
<rect x="696" y="644" width="4" height="20" fill="#008000"/>
<rect x="698" y="644" width="1" height="1" fill="#fff"/>
<rect x="699" y="644" width="1" height="1" fill="#fff"/>
<rect x="704" y="644" width="4" height="14" fill="#008000"/>
<rect x="704" y="644" width="1" height="1" fill="#fff"/>
<rect x="705" y="644" width="1" height="1" fill="#fff"/>
<rect x="706" y="644" width="1" height="1" fill="#fff"/>
<rect x="712" y="644" width="4" height="3" fill="#008000"/>
<rect x="712" y="644" width="1" height="1" fill="#fff"/>
<rect x="720" y="640" width="4" height="4" fill="#008000"/>
<rect x="720" y="644" width="4" height="1" fill="#fff"/>
<rect x="728" y="637" width="4" height="7" fill="#008000"/>
<rect x="728" y="644" width="4" height="1" fill="#fff"/>
<rect x="736" y="634" width="4" height="10" fill="#008000"/>
<rect x="736" y="644" width="4" height="1" fill="#fff"/>
<rect x="744" y="634" width="4" height="10" fill="#ff0000"/>
<rect x="744" y="644" width="4" height="1" fill="#fff"/>
<rect x="752" y="636" width="4" height="8" fill="#ff0000"/>
<rect x="752" y="644" width="4" height="1" fill="#fff"/>
<rect x="760" y="639" width="4" height="5" fill="#ff0000"/>
<rect x="760" y="644" width="4" height="1" fill="#fff"/>
<rect x="768" y="642" width="4" height="2" fill="#ff0000"/>
<rect x="768" y="644" width="4" height="1" fill="#fff"/>
<rect x="776" y="644" width="4" height="3" fill="#ff0000"/>
<rect x="776" y="644" width="1" height="1" fill="#fff"/>
<rect x="777" y="644" width="1" height="1" fill="#fff"/>
<rect x="778" y="644" width="1" height="1" fill="#fff"/>
<rect x="784" y="644" width="4" height="6" fill="#ff0000"/>
<rect x="784" y="644" width="1" height="1" fill="#fff"/>
<rect x="792" y="644" width="4" height="8" fill="#ff0000"/>
<rect x="794" y="644" width="1" height="1" fill="#fff"/>
<rect x="795" y="644" width="1" height="1" fill="#fff"/>
<rect x="800" y="644" width="4" height="9" fill="#ff0000"/>
<rect x="800" y="644" width="1" height="1" fill="#fff"/>
<rect x="801" y="644" width="1" height="1" fill="#fff"/>
<rect x="802" y="644" width="1" height="1" fill="#fff"/>
<rect x="808" y="644" width="4" height="11" fill="#ff0000"/>
<rect x="808" y="644" width="1" height="1" fill="#fff"/>
<rect x="816" y="644" width="4" height="12" fill="#ff0000"/>
<rect x="818" y="644" width="1" height="1" fill="#fff"/>
<rect x="819" y="644" width="1" height="1" fill="#fff"/>
<rect x="824" y="644" width="4" height="10" fill="#008000"/>
<rect x="824" y="644" width="1" height="1" fill="#fff"/>
<rect x="825" y="644" width="1" height="1" fill="#fff"/>
<rect x="826" y="644" width="1" height="1" fill="#fff"/>
<rect x="832" y="644" width="4" height="6" fill="#008000"/>
<rect x="832" y="644" width="1" height="1" fill="#fff"/>
<rect x="840" y="644" width="4" height="10" fill="#ff0000"/>
<rect x="842" y="644" width="1" height="1" fill="#fff"/>
<rect x="843" y="644" width="1" height="1" fill="#fff"/>
<rect x="848" y="644" width="4" height="18" fill="#ff0000"/>
<rect x="848" y="644" width="1" height="1" fill="#fff"/>
<rect x="849" y="644" width="1" height="1" fill="#fff"/>
<rect x="850" y="644" width="1" height="1" fill="#fff"/>
<rect x="856" y="644" width="4" height="21" fill="#ff0000"/>
<rect x="856" y="644" width="1" height="1" fill="#fff"/>
<rect x="864" y="644" width="4" height="23" fill="#ff0000"/>
<rect x="866" y="644" width="1" height="1" fill="#fff"/>
<rect x="867" y="644" width="1" height="1" fill="#fff"/>
<rect x="872" y="644" width="4" height="24" fill="#ff0000"/>
<rect x="872" y="644" width="1" height="1" fill="#fff"/>
<rect x="873" y="644" width="1" height="1" fill="#fff"/>
<rect x="874" y="644" width="1" height="1" fill="#fff"/>
<rect x="880" y="644" width="4" height="15" fill="#008000"/>
<rect x="880" y="644" width="1" height="1" fill="#fff"/>
<rect x="888" y="644" width="4" height="5" fill="#008000"/>
<rect x="890" y="644" width="1" height="1" fill="#fff"/>
<rect x="891" y="644" width="1" height="1" fill="#fff"/>
<rect x="896" y="644" width="4" height="1" fill="#008000"/>
<rect x="896" y="644" width="1" height="1" fill="#fff"/>
<rect x="897" y="644" width="1" height="1" fill="#fff"/>
<rect x="898" y="644" width="1" height="1" fill="#fff"/>
<rect x="904" y="638" width="4" height="6" fill="#008000"/>
<rect x="904" y="644" width="4" height="1" fill="#fff"/>
<rect x="912" y="637" width="4" height="7" fill="#008000"/>
<rect x="912" y="644" width="4" height="1" fill="#fff"/>
<rect x="920" y="637" width="4" height="7" fill="#008000"/>
<rect x="920" y="644" width="4" height="1" fill="#fff"/>
<rect x="928" y="634" width="4" height="10" fill="#008000"/>
<rect x="928" y="644" width="4" height="1" fill="#fff"/>
<rect x="936" y="633" width="4" height="11" fill="#008000"/>
<rect x="936" y="644" width="4" height="1" fill="#fff"/>
<rect x="944" y="633" width="4" height="11" fill="#ff0000"/>
<rect x="944" y="644" width="4" height="1" fill="#fff"/>
<rect x="952" y="634" width="4" height="10" fill="#ff0000"/>
<rect x="952" y="644" width="4" height="1" fill="#fff"/>
<rect x="960" y="635" width="4" height="9" fill="#ff0000"/>
<rect x="960" y="644" width="4" height="1" fill="#fff"/>
<rect x="968" y="638" width="4" height="6" fill="#ff0000"/>
<rect x="968" y="644" width="4" height="1" fill="#fff"/>
<rect x="976" y="641" width="4" height="3" fill="#ff0000"/>
<rect x="976" y="644" width="4" height="1" fill="#fff"/>
<rect x="984" y="641" width="4" height="3" fill="#ff0000"/>
<rect x="984" y="644" width="4" height="1" fill="#fff"/>
<rect x="992" y="640" width="4" height="4" fill="#008000"/>
<rect x="992" y="644" width="4" height="1" fill="#fff"/>
<rect x="1000" y="638" width="4" height="6" fill="#008000"/>
<rect x="1000" y="644" width="4" height="1" fill="#fff"/>
<rect x="1008" y="635" width="4" height="9" fill="#008000"/>
<rect x="1008" y="644" width="4" height="1" fill="#fff"/>
<rect x="1016" y="632" width="4" height="12" fill="#008000"/>
<rect x="1016" y="644" width="4" height="1" fill="#fff"/>
<rect x="1024" y="632" width="4" height="12" fill="#ff0000"/>
<rect x="1024" y="644" width="4" height="1" fill="#fff"/>
<rect x="1032" y="631" width="4" height="13" fill="#008000"/>
<rect x="1032" y="644" width="4" height="1" fill="#fff"/>
<rect x="1040" y="631" width="4" height="13" fill="#008000"/>
<rect x="1040" y="644" width="4" height="1" fill="#fff"/>
<rect x="1048" y="632" width="4" height="12" fill="#ff0000"/>
<rect x="1048" y="644" width="4" height="1" fill="#fff"/>
<rect x="1056" y="637" width="4" height="7" fill="#ff0000"/>
<rect x="1056" y="644" width="4" height="1" fill="#fff"/>
<rect x="1064" y="639" width="4" height="5" fill="#ff0000"/>
<rect x="1064" y="644" width="4" height="1" fill="#fff"/>
<rect x="1072" y="642" width="4" height="2" fill="#ff0000"/>
<rect x="1072" y="644" width="4" height="1" fill="#fff"/>
<rect x="1080" y="643" width="4" height="1" fill="#ff0000"/>
<rect x="1080" y="644" width="4" height="1" fill="#fff"/>
<rect x="1088" y="644" width="4" height="1" fill="#ff0000"/>
<rect x="1096" y="642" width="4" height="2" fill="#008000"/>
<rect x="1096" y="644" width="4" height="1" fill="#fff"/>
</g>
<g clip-path="url(#c3)" shape-rendering="crispEdges">
<rect x="0" y="700" width="4" height="27" fill="#008000"/>
<rect x="0" y="727" width="4" height="40" fill="#008000"/>
<rect x="2" y="727" width="1" height="1" fill="#fff"/>
<rect x="3" y="727" width="1" height="1" fill="#fff"/>
<rect x="8" y="694" width="4" height="33" fill="#008000"/>
<rect x="8" y="727" width="4" height="39" fill="#ff0000"/>
<rect x="8" y="727" width="1" height="1" fill="#fff"/>
<rect x="9" y="727" width="1" height="1" fill="#fff"/>
<rect x="10" y="727" width="1" height="1" fill="#fff"/>
<rect x="16" y="694" width="4" height="33" fill="#008000"/>
<rect x="16" y="727" width="4" height="36" fill="#ff0000"/>
<rect x="16" y="727" width="1" height="1" fill="#fff"/>
<rect x="24" y="694" width="4" height="33" fill="#008000"/>
<rect x="24" y="727" width="4" height="33" fill="#ff0000"/>
<rect x="26" y="727" width="1" height="1" fill="#fff"/>
<rect x="27" y="727" width="1" height="1" fill="#fff"/>
<rect x="32" y="694" width="4" height="33" fill="#ff0000"/>
<rect x="32" y="727" width="4" height="29" fill="#ff0000"/>
<rect x="32" y="727" width="1" height="1" fill="#fff"/>
<rect x="33" y="727" width="1" height="1" fill="#fff"/>
<rect x="34" y="727" width="1" height="1" fill="#fff"/>
<rect x="40" y="694" width="4" height="33" fill="#ff0000"/>
<rect x="40" y="727" width="4" height="26" fill="#ff0000"/>
<rect x="40" y="727" width="1" height="1" fill="#fff"/>
<rect x="48" y="694" width="4" height="33" fill="#ff0000"/>
<rect x="48" y="727" width="4" height="23" fill="#ff0000"/>
<rect x="50" y="727" width="1" height="1" fill="#fff"/>
<rect x="51" y="727" width="1" height="1" fill="#fff"/>
<rect x="56" y="695" width="4" height="32" fill="#ff0000"/>
<rect x="56" y="727" width="4" height="21" fill="#ff0000"/>
<rect x="56" y="727" width="1" height="1" fill="#fff"/>
<rect x="57" y="727" width="1" height="1" fill="#fff"/>
<rect x="58" y="727" width="1" height="1" fill="#fff"/>
<rect x="64" y="697" width="4" height="30" fill="#ff0000"/>
<rect x="64" y="727" width="4" height="21" fill="#008000"/>
<rect x="64" y="727" width="1" height="1" fill="#fff"/>
<rect x="72" y="698" width="4" height="29" fill="#ff0000"/>
<rect x="72" y="727" width="4" height="21" fill="#ff0000"/>
<rect x="74" y="727" width="1" height="1" fill="#fff"/>
<rect x="75" y="727" width="1" height="1" fill="#fff"/>
<rect x="80" y="698" width="4" height="29" fill="#008000"/>
<rect x="80" y="727" width="4" height="19" fill="#ff0000"/>
<rect x="80" y="727" width="1" height="1" fill="#fff"/>
<rect x="81" y="727" width="1" height="1" fill="#fff"/>
<rect x="82" y="727" width="1" height="1" fill="#fff"/>
<rect x="88" y="698" width="4" height="29" fill="#ff0000"/>
<rect x="88" y="727" width="4" height="24" fill="#008000"/>
<rect x="88" y="727" width="1" height="1" fill="#fff"/>
<rect x="96" y="698" width="4" height="29" fill="#008000"/>
<rect x="96" y="727" width="4" height="30" fill="#008000"/>
<rect x="98" y="727" width="1" height="1" fill="#fff"/>
<rect x="99" y="727" width="1" height="1" fill="#fff"/>
<rect x="104" y="696" width="4" height="31" fill="#008000"/>
<rect x="104" y="727" width="4" height="31" fill="#008000"/>
<rect x="104" y="727" width="1" height="1" fill="#fff"/>
<rect x="105" y="727" width="1" height="1" fill="#fff"/>
<rect x="106" y="727" width="1" height="1" fill="#fff"/>
<rect x="112" y="691" width="4" height="36" fill="#008000"/>
<rect x="112" y="727" width="4" height="29" fill="#ff0000"/>
<rect x="112" y="727" width="1" height="1" fill="#fff"/>
<rect x="120" y="688" width="4" height="39" fill="#008000"/>
<rect x="120" y="727" width="4" height="27" fill="#ff0000"/>
<rect x="122" y="727" width="1" height="1" fill="#fff"/>
<rect x="123" y="727" width="1" height="1" fill="#fff"/>
<rect x="128" y="688" width="4" height="39" fill="#008000"/>
<rect x="128" y="727" width="4" height="24" fill="#ff0000"/>
<rect x="128" y="727" width="1" height="1" fill="#fff"/>
<rect x="129" y="727" width="1" height="1" fill="#fff"/>
<rect x="130" y="727" width="1" height="1" fill="#fff"/>
<rect x="136" y="689" width="4" height="38" fill="#ff0000"/>
<rect x="136" y="727" width="4" height="18" fill="#ff0000"/>
<rect x="136" y="727" width="1" height="1" fill="#fff"/>
<rect x="144" y="691" width="4" height="36" fill="#ff0000"/>
<rect x="144" y="727" width="4" height="11" fill="#ff0000"/>
<rect x="146" y="727" width="1" height="1" fill="#fff"/>
<rect x="147" y="727" width="1" height="1" fill="#fff"/>
<rect x="152" y="695" width="4" height="32" fill="#ff0000"/>
<rect x="152" y="727" width="4" height="6" fill="#ff0000"/>
<rect x="152" y="727" width="1" height="1" fill="#fff"/>
<rect x="153" y="727" width="1" height="1" fill="#fff"/>
<rect x="154" y="727" width="1" height="1" fill="#fff"/>
<rect x="160" y="700" width="4" height="27" fill="#ff0000"/>
<rect x="160" y="727" width="4" height="6" fill="#ff0000"/>
<rect x="160" y="727" width="1" height="1" fill="#fff"/>
<rect x="168" y="705" width="4" height="22" fill="#ff0000"/>
<rect x="168" y="727" width="4" height="4" fill="#ff0000"/>
<rect x="170" y="727" width="1" height="1" fill="#fff"/>
<rect x="171" y="727" width="1" height="1" fill="#fff"/>
<rect x="176" y="708" width="4" height="19" fill="#ff0000"/>
<rect x="176" y="727" width="4" height="3" fill="#ff0000"/>
<rect x="176" y="727" width="1" height="1" fill="#fff"/>
<rect x="177" y="727" width="1" height="1" fill="#fff"/>
<rect x="178" y="727" width="1" height="1" fill="#fff"/>
<rect x="184" y="710" width="4" height="17" fill="#ff0000"/>
<rect x="184" y="727" width="4" height="3" fill="#008000"/>
<rect x="184" y="727" width="1" height="1" fill="#fff"/>
<rect x="192" y="711" width="4" height="16" fill="#ff0000"/>
<rect x="192" y="727" width="4" height="1" fill="#ff0000"/>
<rect x="194" y="727" width="1" height="1" fill="#fff"/>
<rect x="195" y="727" width="1" height="1" fill="#fff"/>
<rect x="200" y="712" width="4" height="15" fill="#ff0000"/>
<rect x="200" y="727" width="4" height="1" fill="#ff0000"/>
<rect x="200" y="727" width="1" height="1" fill="#fff"/>
<rect x="201" y="727" width="1" height="1" fill="#fff"/>
<rect x="202" y="727" width="1" height="1" fill="#fff"/>
<rect x="208" y="714" width="4" height="13" fill="#ff0000"/>
<rect x="208" y="727" width="4" height="1" fill="#ff0000"/>
<rect x="208" y="727" width="1" height="1" fill="#fff"/>
<rect x="216" y="715" width="4" height="12" fill="#ff0000"/>
<rect x="216" y="727" width="4" height="1" fill="#008000"/>
<rect x="218" y="727" width="1" height="1" fill="#fff"/>
<rect x="219" y="727" width="1" height="1" fill="#fff"/>
<rect x="224" y="716" width="4" height="11" fill="#ff0000"/>
<rect x="224" y="727" width="4" height="1" fill="#ff0000"/>
<rect x="224" y="727" width="1" height="1" fill="#fff"/>
<rect x="225" y="727" width="1" height="1" fill="#fff"/>
<rect x="226" y="727" width="1" height="1" fill="#fff"/>
<rect x="232" y="717" width="4" height="10" fill="#ff0000"/>
<rect x="232" y="727" width="4" height="1" fill="#008000"/>
<rect x="232" y="727" width="1" height="1" fill="#fff"/>
<rect x="240" y="718" width="4" height="9" fill="#ff0000"/>
<rect x="240" y="727" width="4" height="2" fill="#008000"/>
<rect x="242" y="727" width="1" height="1" fill="#fff"/>
<rect x="243" y="727" width="1" height="1" fill="#fff"/>
<rect x="248" y="718" width="4" height="9" fill="#ff0000"/>
<rect x="248" y="727" width="4" height="4" fill="#008000"/>
<rect x="248" y="727" width="1" height="1" fill="#fff"/>
<rect x="249" y="727" width="1" height="1" fill="#fff"/>
<rect x="250" y="727" width="1" height="1" fill="#fff"/>
<rect x="256" y="720" width="4" height="7" fill="#ff0000"/>
<rect x="256" y="727" width="4" height="5" fill="#008000"/>
<rect x="256" y="727" width="1" height="1" fill="#fff"/>
<rect x="264" y="722" width="4" height="5" fill="#ff0000"/>
<rect x="264" y="727" width="4" height="6" fill="#008000"/>
<rect x="266" y="727" width="1" height="1" fill="#fff"/>
<rect x="267" y="727" width="1" height="1" fill="#fff"/>
<rect x="272" y="724" width="4" height="3" fill="#ff0000"/>
<rect x="272" y="727" width="4" height="12" fill="#008000"/>
<rect x="272" y="727" width="1" height="1" fill="#fff"/>
<rect x="273" y="727" width="1" height="1" fill="#fff"/>
<rect x="274" y="727" width="1" height="1" fill="#fff"/>
<rect x="280" y="726" width="4" height="1" fill="#ff0000"/>
<rect x="280" y="727" width="4" height="25" fill="#008000"/>
<rect x="280" y="727" width="1" height="1" fill="#fff"/>
<rect x="288" y="725" width="4" height="2" fill="#008000"/>
<rect x="288" y="727" width="4" height="38" fill="#008000"/>
<rect x="290" y="727" width="1" height="1" fill="#fff"/>
<rect x="291" y="727" width="1" height="1" fill="#fff"/>
<rect x="296" y="715" width="4" height="12" fill="#008000"/>
<rect x="296" y="727" width="4" height="43" fill="#008000"/>
<rect x="296" y="727" width="1" height="1" fill="#fff"/>
<rect x="297" y="727" width="1" height="1" fill="#fff"/>
<rect x="298" y="727" width="1" height="1" fill="#fff"/>
<rect x="304" y="704" width="4" height="23" fill="#008000"/>
<rect x="304" y="727" width="4" height="43" fill="#008000"/>
<rect x="304" y="727" width="1" height="1" fill="#fff"/>
<rect x="312" y="695" width="4" height="32" fill="#008000"/>
<rect x="312" y="727" width="4" height="42" fill="#ff0000"/>
<rect x="314" y="727" width="1" height="1" fill="#fff"/>
<rect x="315" y="727" width="1" height="1" fill="#fff"/>
<rect x="320" y="691" width="4" height="36" fill="#008000"/>
<rect x="320" y="727" width="4" height="37" fill="#ff0000"/>
<rect x="320" y="727" width="1" height="1" fill="#fff"/>
<rect x="321" y="727" width="1" height="1" fill="#fff"/>
<rect x="322" y="727" width="1" height="1" fill="#fff"/>
<rect x="328" y="689" width="4" height="38" fill="#008000"/>
<rect x="328" y="727" width="4" height="31" fill="#ff0000"/>
<rect x="328" y="727" width="1" height="1" fill="#fff"/>
<rect x="336" y="691" width="4" height="36" fill="#ff0000"/>
<rect x="336" y="727" width="4" height="30" fill="#ff0000"/>
<rect x="338" y="727" width="1" height="1" fill="#fff"/>
<rect x="339" y="727" width="1" height="1" fill="#fff"/>
<rect x="344" y="693" width="4" height="34" fill="#ff0000"/>
<rect x="344" y="727" width="4" height="29" fill="#ff0000"/>
<rect x="344" y="727" width="1" height="1" fill="#fff"/>
<rect x="345" y="727" width="1" height="1" fill="#fff"/>
<rect x="346" y="727" width="1" height="1" fill="#fff"/>
<rect x="352" y="694" width="4" height="33" fill="#ff0000"/>
<rect x="352" y="727" width="4" height="26" fill="#ff0000"/>
<rect x="352" y="727" width="1" height="1" fill="#fff"/>
<rect x="360" y="695" width="4" height="32" fill="#ff0000"/>
<rect x="360" y="727" width="4" height="24" fill="#ff0000"/>
<rect x="362" y="727" width="1" height="1" fill="#fff"/>
<rect x="363" y="727" width="1" height="1" fill="#fff"/>
<rect x="368" y="695" width="4" height="32" fill="#ff0000"/>
<rect x="368" y="727" width="4" height="26" fill="#008000"/>
<rect x="368" y="727" width="1" height="1" fill="#fff"/>
<rect x="369" y="727" width="1" height="1" fill="#fff"/>
<rect x="370" y="727" width="1" height="1" fill="#fff"/>
<rect x="376" y="696" width="4" height="31" fill="#ff0000"/>
<rect x="376" y="727" width="4" height="25" fill="#ff0000"/>
<rect x="376" y="727" width="1" height="1" fill="#fff"/>
<rect x="384" y="695" width="4" height="32" fill="#008000"/>
<rect x="384" y="727" width="4" height="25" fill="#ff0000"/>
<rect x="386" y="727" width="1" height="1" fill="#fff"/>
<rect x="387" y="727" width="1" height="1" fill="#fff"/>
<rect x="392" y="695" width="4" height="32" fill="#008000"/>
<rect x="392" y="727" width="4" height="26" fill="#008000"/>
<rect x="392" y="727" width="1" height="1" fill="#fff"/>
<rect x="393" y="727" width="1" height="1" fill="#fff"/>
<rect x="394" y="727" width="1" height="1" fill="#fff"/>
<rect x="400" y="694" width="4" height="33" fill="#008000"/>
<rect x="400" y="727" width="4" height="27" fill="#008000"/>
<rect x="400" y="727" width="1" height="1" fill="#fff"/>
<rect x="408" y="693" width="4" height="34" fill="#008000"/>
<rect x="408" y="727" width="4" height="25" fill="#ff0000"/>
<rect x="410" y="727" width="1" height="1" fill="#fff"/>
<rect x="411" y="727" width="1" height="1" fill="#fff"/>
<rect x="416" y="692" width="4" height="35" fill="#008000"/>
<rect x="416" y="727" width="4" height="21" fill="#ff0000"/>
<rect x="416" y="727" width="1" height="1" fill="#fff"/>
<rect x="417" y="727" width="1" height="1" fill="#fff"/>
<rect x="418" y="727" width="1" height="1" fill="#fff"/>
<rect x="424" y="692" width="4" height="35" fill="#ff0000"/>
<rect x="424" y="727" width="4" height="18" fill="#ff0000"/>
<rect x="424" y="727" width="1" height="1" fill="#fff"/>
<rect x="432" y="694" width="4" height="33" fill="#ff0000"/>
<rect x="432" y="727" width="4" height="18" fill="#ff0000"/>
<rect x="434" y="727" width="1" height="1" fill="#fff"/>
<rect x="435" y="727" width="1" height="1" fill="#fff"/>
<rect x="440" y="697" width="4" height="30" fill="#ff0000"/>
<rect x="440" y="727" width="4" height="17" fill="#ff0000"/>
<rect x="440" y="727" width="1" height="1" fill="#fff"/>
<rect x="441" y="727" width="1" height="1" fill="#fff"/>
<rect x="442" y="727" width="1" height="1" fill="#fff"/>
<rect x="448" y="697" width="4" height="30" fill="#ff0000"/>
<rect x="448" y="727" width="4" height="17" fill="#ff0000"/>
<rect x="448" y="727" width="1" height="1" fill="#fff"/>
<rect x="456" y="698" width="4" height="29" fill="#ff0000"/>
<rect x="456" y="727" width="4" height="18" fill="#008000"/>
<rect x="458" y="727" width="1" height="1" fill="#fff"/>
<rect x="459" y="727" width="1" height="1" fill="#fff"/>
<rect x="464" y="698" width="4" height="29" fill="#ff0000"/>
<rect x="464" y="727" width="4" height="18" fill="#ff0000"/>
<rect x="464" y="727" width="1" height="1" fill="#fff"/>
<rect x="465" y="727" width="1" height="1" fill="#fff"/>
<rect x="466" y="727" width="1" height="1" fill="#fff"/>
<rect x="472" y="698" width="4" height="29" fill="#008000"/>
<rect x="472" y="727" width="4" height="16" fill="#ff0000"/>
<rect x="472" y="727" width="1" height="1" fill="#fff"/>
<rect x="480" y="698" width="4" height="29" fill="#008000"/>
<rect x="480" y="727" width="4" height="15" fill="#ff0000"/>
<rect x="482" y="727" width="1" height="1" fill="#fff"/>
<rect x="483" y="727" width="1" height="1" fill="#fff"/>
<rect x="488" y="699" width="4" height="28" fill="#ff0000"/>
<rect x="488" y="727" width="4" height="16" fill="#008000"/>
<rect x="488" y="727" width="1" height="1" fill="#fff"/>
<rect x="489" y="727" width="1" height="1" fill="#fff"/>
<rect x="490" y="727" width="1" height="1" fill="#fff"/>
<rect x="496" y="700" width="4" height="27" fill="#ff0000"/>
<rect x="496" y="727" width="4" height="19" fill="#008000"/>
<rect x="496" y="727" width="1" height="1" fill="#fff"/>
<rect x="504" y="700" width="4" height="27" fill="#008000"/>
<rect x="504" y="727" width="4" height="19" fill="#ff0000"/>
<rect x="506" y="727" width="1" height="1" fill="#fff"/>
<rect x="507" y="727" width="1" height="1" fill="#fff"/>
<rect x="512" y="699" width="4" height="28" fill="#008000"/>
<rect x="512" y="727" width="4" height="19" fill="#008000"/>
<rect x="512" y="727" width="1" height="1" fill="#fff"/>
<rect x="513" y="727" width="1" height="1" fill="#fff"/>
<rect x="514" y="727" width="1" height="1" fill="#fff"/>
<rect x="520" y="698" width="4" height="29" fill="#008000"/>
<rect x="520" y="727" width="4" height="21" fill="#008000"/>
<rect x="520" y="727" width="1" height="1" fill="#fff"/>
<rect x="528" y="697" width="4" height="30" fill="#008000"/>
<rect x="528" y="727" width="4" height="23" fill="#008000"/>
<rect x="530" y="727" width="1" height="1" fill="#fff"/>
<rect x="531" y="727" width="1" height="1" fill="#fff"/>
<rect x="536" y="697" width="4" height="30" fill="#008000"/>
<rect x="536" y="727" width="4" height="27" fill="#008000"/>
<rect x="536" y="727" width="1" height="1" fill="#fff"/>
<rect x="537" y="727" width="1" height="1" fill="#fff"/>
<rect x="538" y="727" width="1" height="1" fill="#fff"/>
<rect x="544" y="695" width="4" height="32" fill="#008000"/>
<rect x="544" y="727" width="4" height="27" fill="#008000"/>
<rect x="544" y="727" width="1" height="1" fill="#fff"/>
<rect x="552" y="692" width="4" height="35" fill="#008000"/>
<rect x="552" y="727" width="4" height="28" fill="#008000"/>
<rect x="554" y="727" width="1" height="1" fill="#fff"/>
<rect x="555" y="727" width="1" height="1" fill="#fff"/>
<rect x="560" y="691" width="4" height="36" fill="#008000"/>
<rect x="560" y="727" width="4" height="28" fill="#008000"/>
<rect x="560" y="727" width="1" height="1" fill="#fff"/>
<rect x="561" y="727" width="1" height="1" fill="#fff"/>
<rect x="562" y="727" width="1" height="1" fill="#fff"/>
<rect x="568" y="689" width="4" height="38" fill="#008000"/>
<rect x="568" y="727" width="4" height="27" fill="#ff0000"/>
<rect x="568" y="727" width="1" height="1" fill="#fff"/>
<rect x="576" y="689" width="4" height="38" fill="#ff0000"/>
<rect x="576" y="727" width="4" height="24" fill="#ff0000"/>
<rect x="578" y="727" width="1" height="1" fill="#fff"/>
<rect x="579" y="727" width="1" height="1" fill="#fff"/>
<rect x="584" y="689" width="4" height="38" fill="#008000"/>
<rect x="584" y="727" width="4" height="18" fill="#ff0000"/>
<rect x="584" y="727" width="1" height="1" fill="#fff"/>
<rect x="585" y="727" width="1" height="1" fill="#fff"/>
<rect x="586" y="727" width="1" height="1" fill="#fff"/>
<rect x="592" y="691" width="4" height="36" fill="#ff0000"/>
<rect x="592" y="727" width="4" height="16" fill="#ff0000"/>
<rect x="592" y="727" width="1" height="1" fill="#fff"/>
<rect x="600" y="695" width="4" height="32" fill="#ff0000"/>
<rect x="600" y="727" width="4" height="15" fill="#ff0000"/>
<rect x="602" y="727" width="1" height="1" fill="#fff"/>
<rect x="603" y="727" width="1" height="1" fill="#fff"/>
<rect x="608" y="697" width="4" height="30" fill="#ff0000"/>
<rect x="608" y="727" width="4" height="12" fill="#ff0000"/>
<rect x="608" y="727" width="1" height="1" fill="#fff"/>
<rect x="609" y="727" width="1" height="1" fill="#fff"/>
<rect x="610" y="727" width="1" height="1" fill="#fff"/>
<rect x="616" y="699" width="4" height="28" fill="#ff0000"/>
<rect x="616" y="727" width="4" height="11" fill="#ff0000"/>
<rect x="616" y="727" width="1" height="1" fill="#fff"/>
<rect x="624" y="701" width="4" height="26" fill="#ff0000"/>
<rect x="624" y="727" width="4" height="11" fill="#ff0000"/>
<rect x="626" y="727" width="1" height="1" fill="#fff"/>
<rect x="627" y="727" width="1" height="1" fill="#fff"/>
<rect x="632" y="702" width="4" height="25" fill="#ff0000"/>
<rect x="632" y="727" width="4" height="8" fill="#ff0000"/>
<rect x="632" y="727" width="1" height="1" fill="#fff"/>
<rect x="633" y="727" width="1" height="1" fill="#fff"/>
<rect x="634" y="727" width="1" height="1" fill="#fff"/>
<rect x="640" y="704" width="4" height="23" fill="#ff0000"/>
<rect x="640" y="727" width="4" height="6" fill="#ff0000"/>
<rect x="640" y="727" width="1" height="1" fill="#fff"/>
<rect x="648" y="705" width="4" height="22" fill="#ff0000"/>
<rect x="648" y="727" width="4" height="4" fill="#ff0000"/>
<rect x="650" y="727" width="1" height="1" fill="#fff"/>
<rect x="651" y="727" width="1" height="1" fill="#fff"/>
<rect x="656" y="707" width="4" height="20" fill="#ff0000"/>
<rect x="656" y="727" width="4" height="1" fill="#ff0000"/>
<rect x="656" y="727" width="1" height="1" fill="#fff"/>
<rect x="657" y="727" width="1" height="1" fill="#fff"/>
<rect x="658" y="727" width="1" height="1" fill="#fff"/>
<rect x="664" y="710" width="4" height="17" fill="#ff0000"/>
<rect x="664" y="727" width="4" height="2" fill="#008000"/>
<rect x="664" y="727" width="1" height="1" fill="#fff"/>
<rect x="672" y="713" width="4" height="14" fill="#ff0000"/>
<rect x="672" y="727" width="4" height="4" fill="#008000"/>
<rect x="674" y="727" width="1" height="1" fill="#fff"/>
<rect x="675" y="727" width="1" height="1" fill="#fff"/>
<rect x="680" y="714" width="4" height="13" fill="#ff0000"/>
<rect x="680" y="727" width="4" height="1" fill="#ff0000"/>
<rect x="680" y="727" width="1" height="1" fill="#fff"/>
<rect x="681" y="727" width="1" height="1" fill="#fff"/>
<rect x="682" y="727" width="1" height="1" fill="#fff"/>
<rect x="688" y="713" width="4" height="14" fill="#008000"/>
<rect x="688" y="727" width="4" height="4" fill="#008000"/>
<rect x="688" y="727" width="1" height="1" fill="#fff"/>
<rect x="696" y="715" width="4" height="12" fill="#ff0000"/>
<rect x="696" y="727" width="4" height="10" fill="#008000"/>
<rect x="698" y="727" width="1" height="1" fill="#fff"/>
<rect x="699" y="727" width="1" height="1" fill="#fff"/>
<rect x="704" y="719" width="4" height="8" fill="#ff0000"/>
<rect x="704" y="727" width="4" height="12" fill="#008000"/>
<rect x="704" y="727" width="1" height="1" fill="#fff"/>
<rect x="705" y="727" width="1" height="1" fill="#fff"/>
<rect x="706" y="727" width="1" height="1" fill="#fff"/>
<rect x="712" y="725" width="4" height="2" fill="#ff0000"/>
<rect x="712" y="727" width="4" height="9" fill="#ff0000"/>
<rect x="712" y="727" width="1" height="1" fill="#fff"/>
<rect x="720" y="727" width="4" height="8" fill="#ff0000"/>
<rect x="722" y="727" width="1" height="1" fill="#fff"/>
<rect x="723" y="727" width="1" height="1" fill="#fff"/>
<rect x="728" y="726" width="4" height="1" fill="#008000"/>
<rect x="728" y="727" width="4" height="8" fill="#ff0000"/>
<rect x="728" y="727" width="1" height="1" fill="#fff"/>
<rect x="729" y="727" width="1" height="1" fill="#fff"/>
<rect x="730" y="727" width="1" height="1" fill="#fff"/>
<rect x="736" y="727" width="4" height="6" fill="#ff0000"/>
<rect x="736" y="727" width="1" height="1" fill="#fff"/>
<rect x="744" y="727" width="4" height="3" fill="#ff0000"/>
<rect x="746" y="727" width="1" height="1" fill="#fff"/>
<rect x="747" y="727" width="1" height="1" fill="#fff"/>
<rect x="752" y="727" width="4" height="1" fill="#ff0000"/>
<rect x="760" y="727" width="4" height="4" fill="#008000"/>
<rect x="760" y="727" width="1" height="1" fill="#fff"/>
<rect x="768" y="724" width="4" height="3" fill="#008000"/>
<rect x="768" y="727" width="4" height="3" fill="#ff0000"/>
<rect x="770" y="727" width="1" height="1" fill="#fff"/>
<rect x="771" y="727" width="1" height="1" fill="#fff"/>
<rect x="776" y="723" width="4" height="4" fill="#008000"/>
<rect x="776" y="727" width="4" height="2" fill="#ff0000"/>
<rect x="776" y="727" width="1" height="1" fill="#fff"/>
<rect x="777" y="727" width="1" height="1" fill="#fff"/>
<rect x="778" y="727" width="1" height="1" fill="#fff"/>
<rect x="784" y="722" width="4" height="5" fill="#008000"/>
<rect x="784" y="727" width="4" height="2" fill="#008000"/>
<rect x="784" y="727" width="1" height="1" fill="#fff"/>
<rect x="792" y="723" width="4" height="4" fill="#ff0000"/>
<rect x="792" y="727" width="4" height="3" fill="#008000"/>
<rect x="794" y="727" width="1" height="1" fill="#fff"/>
<rect x="795" y="727" width="1" height="1" fill="#fff"/>
<rect x="800" y="724" width="4" height="3" fill="#ff0000"/>
<rect x="800" y="727" width="4" height="2" fill="#ff0000"/>
<rect x="800" y="727" width="1" height="1" fill="#fff"/>
<rect x="801" y="727" width="1" height="1" fill="#fff"/>
<rect x="802" y="727" width="1" height="1" fill="#fff"/>
<rect x="808" y="723" width="4" height="4" fill="#008000"/>
<rect x="808" y="727" width="4" height="3" fill="#008000"/>
<rect x="808" y="727" width="1" height="1" fill="#fff"/>
<rect x="816" y="724" width="4" height="3" fill="#ff0000"/>
<rect x="816" y="727" width="4" height="6" fill="#008000"/>
<rect x="818" y="727" width="1" height="1" fill="#fff"/>
<rect x="819" y="727" width="1" height="1" fill="#fff"/>
<rect x="824" y="726" width="4" height="1" fill="#ff0000"/>
<rect x="824" y="727" width="4" height="6" fill="#008000"/>
<rect x="824" y="727" width="1" height="1" fill="#fff"/>
<rect x="825" y="727" width="1" height="1" fill="#fff"/>
<rect x="826" y="727" width="1" height="1" fill="#fff"/>
<rect x="832" y="726" width="4" height="1" fill="#008000"/>
<rect x="832" y="727" width="4" height="7" fill="#008000"/>
<rect x="832" y="727" width="1" height="1" fill="#fff"/>
<rect x="840" y="724" width="4" height="3" fill="#008000"/>
<rect x="840" y="727" width="4" height="9" fill="#008000"/>
<rect x="842" y="727" width="1" height="1" fill="#fff"/>
<rect x="843" y="727" width="1" height="1" fill="#fff"/>
<rect x="848" y="723" width="4" height="4" fill="#008000"/>
<rect x="848" y="727" width="4" height="11" fill="#008000"/>
<rect x="848" y="727" width="1" height="1" fill="#fff"/>
<rect x="849" y="727" width="1" height="1" fill="#fff"/>
<rect x="850" y="727" width="1" height="1" fill="#fff"/>
<rect x="856" y="721" width="4" height="6" fill="#008000"/>
<rect x="856" y="727" width="4" height="9" fill="#ff0000"/>
<rect x="856" y="727" width="1" height="1" fill="#fff"/>
<rect x="864" y="719" width="4" height="8" fill="#008000"/>
<rect x="864" y="727" width="4" height="14" fill="#008000"/>
<rect x="866" y="727" width="1" height="1" fill="#fff"/>
<rect x="867" y="727" width="1" height="1" fill="#fff"/>
<rect x="872" y="720" width="4" height="7" fill="#ff0000"/>
<rect x="872" y="727" width="4" height="24" fill="#008000"/>
<rect x="872" y="727" width="1" height="1" fill="#fff"/>
<rect x="873" y="727" width="1" height="1" fill="#fff"/>
<rect x="874" y="727" width="1" height="1" fill="#fff"/>
<rect x="880" y="715" width="4" height="12" fill="#008000"/>
<rect x="880" y="727" width="4" height="25" fill="#008000"/>
<rect x="880" y="727" width="1" height="1" fill="#fff"/>
<rect x="888" y="710" width="4" height="17" fill="#008000"/>
<rect x="888" y="727" width="4" height="26" fill="#008000"/>
<rect x="890" y="727" width="1" height="1" fill="#fff"/>
<rect x="891" y="727" width="1" height="1" fill="#fff"/>
<rect x="896" y="705" width="4" height="22" fill="#008000"/>
<rect x="896" y="727" width="4" height="24" fill="#ff0000"/>
<rect x="896" y="727" width="1" height="1" fill="#fff"/>
<rect x="897" y="727" width="1" height="1" fill="#fff"/>
<rect x="898" y="727" width="1" height="1" fill="#fff"/>
<rect x="904" y="703" width="4" height="24" fill="#008000"/>
<rect x="904" y="727" width="4" height="22" fill="#ff0000"/>
<rect x="904" y="727" width="1" height="1" fill="#fff"/>
<rect x="912" y="703" width="4" height="24" fill="#ff0000"/>
<rect x="912" y="727" width="4" height="22" fill="#ff0000"/>
<rect x="914" y="727" width="1" height="1" fill="#fff"/>
<rect x="915" y="727" width="1" height="1" fill="#fff"/>
<rect x="920" y="703" width="4" height="24" fill="#008000"/>
<rect x="920" y="727" width="4" height="21" fill="#ff0000"/>
<rect x="920" y="727" width="1" height="1" fill="#fff"/>
<rect x="921" y="727" width="1" height="1" fill="#fff"/>
<rect x="922" y="727" width="1" height="1" fill="#fff"/>
<rect x="928" y="704" width="4" height="23" fill="#ff0000"/>
<rect x="928" y="727" width="4" height="19" fill="#ff0000"/>
<rect x="928" y="727" width="1" height="1" fill="#fff"/>
<rect x="936" y="703" width="4" height="24" fill="#008000"/>
<rect x="936" y="727" width="4" height="17" fill="#ff0000"/>
<rect x="938" y="727" width="1" height="1" fill="#fff"/>
<rect x="939" y="727" width="1" height="1" fill="#fff"/>
<rect x="944" y="704" width="4" height="23" fill="#ff0000"/>
<rect x="944" y="727" width="4" height="15" fill="#ff0000"/>
<rect x="944" y="727" width="1" height="1" fill="#fff"/>
<rect x="945" y="727" width="1" height="1" fill="#fff"/>
<rect x="946" y="727" width="1" height="1" fill="#fff"/>
<rect x="952" y="705" width="4" height="22" fill="#ff0000"/>
<rect x="952" y="727" width="4" height="12" fill="#ff0000"/>
<rect x="952" y="727" width="1" height="1" fill="#fff"/>
<rect x="960" y="706" width="4" height="21" fill="#ff0000"/>
<rect x="960" y="727" width="4" height="10" fill="#ff0000"/>
<rect x="962" y="727" width="1" height="1" fill="#fff"/>
<rect x="963" y="727" width="1" height="1" fill="#fff"/>
<rect x="968" y="708" width="4" height="19" fill="#ff0000"/>
<rect x="968" y="727" width="4" height="9" fill="#ff0000"/>
<rect x="968" y="727" width="1" height="1" fill="#fff"/>
<rect x="969" y="727" width="1" height="1" fill="#fff"/>
<rect x="970" y="727" width="1" height="1" fill="#fff"/>
<rect x="976" y="710" width="4" height="17" fill="#ff0000"/>
<rect x="976" y="727" width="4" height="7" fill="#ff0000"/>
<rect x="976" y="727" width="1" height="1" fill="#fff"/>
<rect x="984" y="711" width="4" height="16" fill="#ff0000"/>
<rect x="984" y="727" width="4" height="7" fill="#ff0000"/>
<rect x="986" y="727" width="1" height="1" fill="#fff"/>
<rect x="987" y="727" width="1" height="1" fill="#fff"/>
<rect x="992" y="712" width="4" height="15" fill="#ff0000"/>
<rect x="992" y="727" width="4" height="7" fill="#008000"/>
<rect x="992" y="727" width="1" height="1" fill="#fff"/>
<rect x="993" y="727" width="1" height="1" fill="#fff"/>
<rect x="994" y="727" width="1" height="1" fill="#fff"/>
<rect x="1000" y="713" width="4" height="14" fill="#ff0000"/>
<rect x="1000" y="727" width="4" height="8" fill="#008000"/>
<rect x="1000" y="727" width="1" height="1" fill="#fff"/>
<rect x="1008" y="713" width="4" height="14" fill="#ff0000"/>
<rect x="1008" y="727" width="4" height="6" fill="#ff0000"/>
<rect x="1010" y="727" width="1" height="1" fill="#fff"/>
<rect x="1011" y="727" width="1" height="1" fill="#fff"/>
<rect x="1016" y="713" width="4" height="14" fill="#008000"/>
<rect x="1016" y="727" width="4" height="4" fill="#ff0000"/>
<rect x="1016" y="727" width="1" height="1" fill="#fff"/>
<rect x="1017" y="727" width="1" height="1" fill="#fff"/>
<rect x="1018" y="727" width="1" height="1" fill="#fff"/>
<rect x="1024" y="714" width="4" height="13" fill="#ff0000"/>
<rect x="1024" y="727" width="4" height="4" fill="#ff0000"/>
<rect x="1024" y="727" width="1" height="1" fill="#fff"/>
<rect x="1032" y="715" width="4" height="12" fill="#ff0000"/>
<rect x="1032" y="727" width="4" height="3" fill="#ff0000"/>
<rect x="1034" y="727" width="1" height="1" fill="#fff"/>
<rect x="1035" y="727" width="1" height="1" fill="#fff"/>
<rect x="1040" y="717" width="4" height="10" fill="#ff0000"/>
<rect x="1040" y="727" width="4" height="1" fill="#ff0000"/>
<rect x="1040" y="727" width="1" height="1" fill="#fff"/>
<rect x="1041" y="727" width="1" height="1" fill="#fff"/>
<rect x="1042" y="727" width="1" height="1" fill="#fff"/>
<rect x="1048" y="718" width="4" height="9" fill="#ff0000"/>
<rect x="1048" y="727" width="4" height="1" fill="#008000"/>
<rect x="1048" y="727" width="1" height="1" fill="#fff"/>
<rect x="1056" y="720" width="4" height="7" fill="#ff0000"/>
<rect x="1056" y="727" width="4" height="1" fill="#008000"/>
<rect x="1058" y="727" width="1" height="1" fill="#fff"/>
<rect x="1059" y="727" width="1" height="1" fill="#fff"/>
<rect x="1064" y="720" width="4" height="7" fill="#ff0000"/>
<rect x="1064" y="727" width="4" height="3" fill="#008000"/>
<rect x="1064" y="727" width="1" height="1" fill="#fff"/>
<rect x="1065" y="727" width="1" height="1" fill="#fff"/>
<rect x="1066" y="727" width="1" height="1" fill="#fff"/>
<rect x="1072" y="722" width="4" height="5" fill="#ff0000"/>
<rect x="1072" y="727" width="4" height="2" fill="#ff0000"/>
<rect x="1072" y="727" width="1" height="1" fill="#fff"/>
<rect x="1080" y="723" width="4" height="4" fill="#ff0000"/>
<rect x="1080" y="727" width="4" height="1" fill="#ff0000"/>
<rect x="1082" y="727" width="1" height="1" fill="#fff"/>
<rect x="1083" y="727" width="1" height="1" fill="#fff"/>
<rect x="1088" y="724" width="4" height="3" fill="#ff0000"/>
<rect x="1088" y="727" width="4" height="1" fill="#008000"/>
<rect x="1088" y="727" width="1" height="1" fill="#fff"/>
<rect x="1089" y="727" width="1" height="1" fill="#fff"/>
<rect x="1090" y="727" width="1" height="1" fill="#fff"/>
<rect x="1096" y="723" width="4" height="4" fill="#008000"/>
<rect x="1096" y="727" width="4" height="1" fill="#ff0000"/>
<rect x="1096" y="727" width="1" height="1" fill="#fff"/>
<rect x="1104" y="722" width="4" height="5" fill="#008000"/>
<rect x="1104" y="727" width="4" height="1" fill="#ff0000"/>
<rect x="1106" y="727" width="1" height="1" fill="#fff"/>
<rect x="1107" y="727" width="1" height="1" fill="#fff"/>
<rect x="1112" y="723" width="4" height="4" fill="#ff0000"/>
<rect x="1112" y="727" width="4" height="1" fill="#008000"/>
<rect x="1112" y="727" width="1" height="1" fill="#fff"/>
<rect x="1113" y="727" width="1" height="1" fill="#fff"/>
<rect x="1114" y="727" width="1" height="1" fill="#fff"/>
<rect x="1120" y="723" width="4" height="4" fill="#ff0000"/>
<rect x="1120" y="727" width="4" height="1" fill="#008000"/>
<rect x="1120" y="727" width="1" height="1" fill="#fff"/>
<rect x="1128" y="724" width="4" height="3" fill="#ff0000"/>
<rect x="1136" y="724" width="4" height="3" fill="#ff0000"/>
</g>
<g shape-rendering="crispEdges" fill="#000">
<rect x="2" y="2" width="1" height="472"/>
<rect x="1227" y="2" width="1" height="472"/>
<rect x="2" y="2" width="1226" height="1"/>
<rect x="2" y="473" width="1226" height="1"/>
<rect x="2" y="475" width="1" height="101"/>
<rect x="1227" y="475" width="1" height="101"/>
<rect x="2" y="475" width="1226" height="1"/>
<rect x="2" y="575" width="1226" height="1"/>
<rect x="1228" y="476" width="4" height="1"/>
<rect x="1228" y="574" width="4" height="1"/>
<rect x="2" y="577" width="1" height="101"/>
<rect x="1227" y="577" width="1" height="101"/>
<rect x="2" y="577" width="1226" height="1"/>
<rect x="2" y="677" width="1226" height="1"/>
<rect x="1228" y="578" width="4" height="1"/>
<rect x="1228" y="676" width="4" height="1"/>
<rect x="2" y="679" width="1" height="101"/>
<rect x="1227" y="679" width="1" height="101"/>
<rect x="2" y="679" width="1226" height="1"/>
<rect x="2" y="779" width="1226" height="1"/>
<rect x="1228" y="680" width="4" height="1"/>
<rect x="1228" y="778" width="4" height="1"/>
<rect x="1228" y="25" width="4" height="1"/>
<rect x="1228" y="57" width="4" height="1"/>
<rect x="1228" y="89" width="4" height="1"/>
<rect x="1228" y="121" width="4" height="1"/>
<rect x="1228" y="153" width="4" height="1"/>
<rect x="1228" y="185" width="4" height="1"/>
<rect x="1228" y="217" width="4" height="1"/>
<rect x="1228" y="249" width="4" height="1"/>
<rect x="1228" y="281" width="4" height="1"/>
<rect x="1228" y="313" width="4" height="1"/>
<rect x="1228" y="345" width="4" height="1"/>
<rect x="1228" y="377" width="4" height="1"/>
<rect x="1228" y="409" width="4" height="1"/>
<rect x="1228" y="441" width="4" height="1"/>
<rect x="2" y="779" width="1" height="5"/>
<rect x="66" y="779" width="1" height="5"/>
<rect x="130" y="779" width="1" height="5"/>
<rect x="194" y="779" width="1" height="5"/>
<rect x="258" y="779" width="1" height="5"/>
<rect x="322" y="779" width="1" height="5"/>
<rect x="386" y="779" width="1" height="5"/>
<rect x="450" y="779" width="1" height="5"/>
<rect x="514" y="779" width="1" height="5"/>
<rect x="578" y="779" width="1" height="5"/>
<rect x="642" y="779" width="1" height="5"/>
<rect x="706" y="779" width="1" height="5"/>
<rect x="770" y="779" width="1" height="5"/>
<rect x="834" y="779" width="1" height="5"/>
<rect x="898" y="779" width="1" height="5"/>
<rect x="962" y="779" width="1" height="5"/>
<rect x="1026" y="779" width="1" height="5"/>
<rect x="1090" y="779" width="1" height="5"/>
</g>
<g style="mix-blend-mode:multiply"><rect x="1270" y="795" width="1" height="1" fill="#fff"/></g>
<g text-rendering="geometricPrecision" stroke="#000" stroke-width="0.3">
<text x="1233" y="29" font-size="10" textLength="32.5" lengthAdjust="spacingAndGlyphs">3227.60</text>
<text x="1233" y="61" font-size="10" textLength="32.5" lengthAdjust="spacingAndGlyphs">3190.65</text>
<text x="1233" y="93" font-size="10" textLength="32.5" lengthAdjust="spacingAndGlyphs">3153.70</text>
<text x="1233" y="125" font-size="10" textLength="32.5" lengthAdjust="spacingAndGlyphs">3116.75</text>
<text x="1233" y="157" font-size="10" textLength="32.5" lengthAdjust="spacingAndGlyphs">3079.80</text>
<text x="1233" y="221" font-size="10" textLength="32.5" lengthAdjust="spacingAndGlyphs">3005.90</text>
<text x="1233" y="253" font-size="10" textLength="32.5" lengthAdjust="spacingAndGlyphs">2968.95</text>
<text x="1233" y="285" font-size="10" textLength="32.5" lengthAdjust="spacingAndGlyphs">2932.00</text>
<text x="1233" y="317" font-size="10" textLength="32.5" lengthAdjust="spacingAndGlyphs">2895.05</text>
<text x="1233" y="349" font-size="10" textLength="32.5" lengthAdjust="spacingAndGlyphs">2858.10</text>
<text x="1233" y="381" font-size="10" textLength="32.5" lengthAdjust="spacingAndGlyphs">2821.15</text>
<text x="1233" y="413" font-size="10" textLength="32.5" lengthAdjust="spacingAndGlyphs">2784.20</text>
<text x="1233" y="445" font-size="10" textLength="32.5" lengthAdjust="spacingAndGlyphs">2747.25</text>
<rect x="1230" y="178" width="39" height="11" fill="#cc0000" shape-rendering="crispEdges"/>
<g stroke="#fff"><text x="1233" y="187" font-size="10" textLength="32.5" lengthAdjust="spacingAndGlyphs" style="fill:#fff">3045.29</text></g>
<text x="1233" y="484" font-size="10" textLength="32.5" lengthAdjust="spacingAndGlyphs">212.083</text>
<text x="1233" y="531" font-size="10" textLength="22.5" lengthAdjust="spacingAndGlyphs">0.000</text>
<text x="1233" y="573" font-size="10" textLength="35.5" lengthAdjust="spacingAndGlyphs">-191.160</text>
<text x="1233" y="586" font-size="10" textLength="32.5" lengthAdjust="spacingAndGlyphs">71.9919</text>
<text x="1233" y="647" font-size="10" textLength="27.5" lengthAdjust="spacingAndGlyphs">0.0000</text>
<text x="1233" y="675" font-size="10" textLength="35.5" lengthAdjust="spacingAndGlyphs">-35.0358</text>
<text x="1233" y="688" font-size="10" textLength="27.5" lengthAdjust="spacingAndGlyphs">84.151</text>
<text x="1233" y="730" font-size="10" textLength="22.5" lengthAdjust="spacingAndGlyphs">0.000</text>
<text x="1233" y="777" font-size="10" textLength="30.5" lengthAdjust="spacingAndGlyphs">-89.880</text>
<text x="3" y="791.5" font-size="10" textLength="45" lengthAdjust="spacingAndGlyphs">1 Dec 2025</text>
<text x="67" y="791.5" font-size="10" textLength="48" lengthAdjust="spacingAndGlyphs">1 Dec 18:00</text>
<text x="131" y="791.5" font-size="10" textLength="48" lengthAdjust="spacingAndGlyphs">2 Dec 02:00</text>
<text x="195" y="791.5" font-size="10" textLength="48" lengthAdjust="spacingAndGlyphs">2 Dec 10:00</text>
<text x="259" y="791.5" font-size="10" textLength="48" lengthAdjust="spacingAndGlyphs">2 Dec 18:00</text>
<text x="323" y="791.5" font-size="10" textLength="48" lengthAdjust="spacingAndGlyphs">3 Dec 02:00</text>
<text x="387" y="791.5" font-size="10" textLength="48" lengthAdjust="spacingAndGlyphs">3 Dec 10:00</text>
<text x="451" y="791.5" font-size="10" textLength="48" lengthAdjust="spacingAndGlyphs">3 Dec 18:00</text>
<text x="515" y="791.5" font-size="10" textLength="48" lengthAdjust="spacingAndGlyphs">4 Dec 02:00</text>
<text x="579" y="791.5" font-size="10" textLength="48" lengthAdjust="spacingAndGlyphs">4 Dec 10:00</text>
<text x="643" y="791.5" font-size="10" textLength="48" lengthAdjust="spacingAndGlyphs">4 Dec 18:00</text>
<text x="707" y="791.5" font-size="10" textLength="48" lengthAdjust="spacingAndGlyphs">5 Dec 02:00</text>
<text x="771" y="791.5" font-size="10" textLength="48" lengthAdjust="spacingAndGlyphs">5 Dec 10:00</text>
<text x="835" y="791.5" font-size="10" textLength="48" lengthAdjust="spacingAndGlyphs">5 Dec 18:00</text>
<text x="899" y="791.5" font-size="10" textLength="48" lengthAdjust="spacingAndGlyphs">6 Dec 02:00</text>
<text x="963" y="791.5" font-size="10" textLength="48" lengthAdjust="spacingAndGlyphs">6 Dec 10:00</text>
<text x="1027" y="791.5" font-size="10" textLength="48" lengthAdjust="spacingAndGlyphs">6 Dec 18:00</text>
<text x="1091" y="791.5" font-size="10" textLength="48" lengthAdjust="spacingAndGlyphs">7 Dec 02:00</text>
<text x="6" y="487.6" font-size="10" textLength="57" lengthAdjust="spacingAndGlyphs">AOcust 2.104</text>
<text x="6" y="589.6" font-size="10" textLength="60.4" lengthAdjust="spacingAndGlyphs">ACcust 2.0102</text>
<text x="6" y="691.6" font-size="10" textLength="96.2" lengthAdjust="spacingAndGlyphs">GatorCust 6.399 -1.580</text>
</g>
</svg></body></html>
